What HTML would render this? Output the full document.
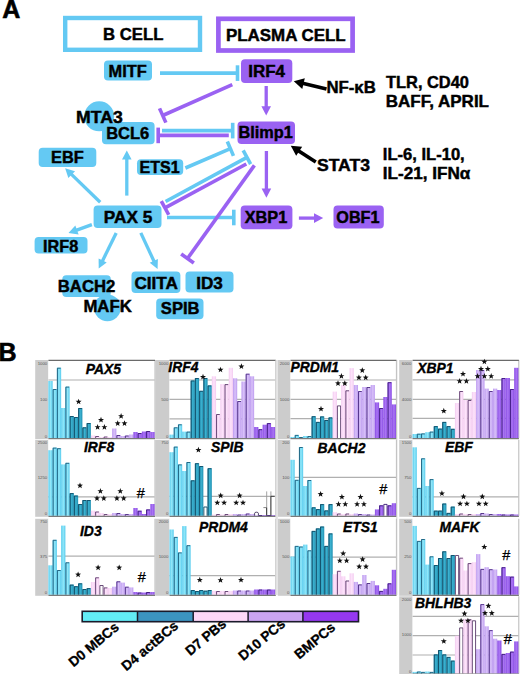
<!DOCTYPE html>
<html><head><meta charset="utf-8"><style>
html,body{margin:0;padding:0;background:#fff;}
body{width:520px;height:674px;overflow:hidden;}
svg{display:block;font-family:"Liberation Sans", sans-serif;}
</style></head><body>
<svg width="520" height="674" viewBox="0 0 520 674">
<defs><linearGradient id="g0" x1="0" x2="1" y1="0" y2="0"><stop offset="0" stop-color="#56CBEE"/><stop offset="0.5" stop-color="#93E7F8"/><stop offset="1" stop-color="#56CBEE"/></linearGradient><linearGradient id="g1" x1="0" x2="1" y1="0" y2="0"><stop offset="0" stop-color="#1F90B2"/><stop offset="0.5" stop-color="#3DB2D0"/><stop offset="1" stop-color="#1F90B2"/></linearGradient><linearGradient id="g2" x1="0" x2="1" y1="0" y2="0"><stop offset="0" stop-color="#F3CBF0"/><stop offset="0.5" stop-color="#FDE4FB"/><stop offset="1" stop-color="#F3CBF0"/></linearGradient><linearGradient id="g3" x1="0" x2="1" y1="0" y2="0"><stop offset="0" stop-color="#BD9BF0"/><stop offset="0.5" stop-color="#D8C1F8"/><stop offset="1" stop-color="#BD9BF0"/></linearGradient><linearGradient id="g4" x1="0" x2="1" y1="0" y2="0"><stop offset="0" stop-color="#8A4CE5"/><stop offset="0.5" stop-color="#AA76F3"/><stop offset="1" stop-color="#8A4CE5"/></linearGradient></defs>
<rect width="520" height="674" fill="#fff"/>
<text x="2.3" y="17.6" font-size="25" text-anchor="start" font-weight="bold" font-style="normal" fill="#000" stroke="#000" stroke-width="0.6" >A</text>
<rect x="65.2" y="18" width="134.8" height="31.8" fill="none" stroke="#64C9F3" stroke-width="4.4"/>
<text transform="translate(133.2 39.7) scale(1.025 1)" font-size="16.3" text-anchor="middle" font-weight="bold" font-style="normal" fill="#000" stroke="#000" stroke-width="0.45" >B CELL</text>
<rect x="218.4" y="18.8" width="134.2" height="31.7" fill="none" stroke="#9A62F2" stroke-width="4.7"/>
<text transform="translate(285.8 40.7) scale(1.04 1)" font-size="16.3" text-anchor="middle" font-weight="bold" font-style="normal" fill="#000" stroke="#000" stroke-width="0.45" >PLASMA CELL</text>
<line x1="160" y1="73.1" x2="237.5" y2="73.1" stroke="#64C9F3" stroke-width="3.6"/>
<line x1="237.5" y1="80.89999999999999" x2="237.5" y2="65.3" stroke="#64C9F3" stroke-width="3.6"/>
<line x1="185.4" y1="168" x2="230.4" y2="148.7" stroke="#64C9F3" stroke-width="3.6"/>
<line x1="233.47449300652363" y1="155.86850701002916" x2="227.32550699347638" y2="141.53149298997081" stroke="#64C9F3" stroke-width="3.6"/>
<line x1="165.6" y1="201.5" x2="246.9" y2="157.3" stroke="#64C9F3" stroke-width="3.6"/>
<line x1="250.6255940539604" y1="164.15273295445658" x2="243.1744059460396" y2="150.44726704554344" stroke="#64C9F3" stroke-width="3.6"/>
<line x1="162" y1="130.6" x2="232.7" y2="130.6" stroke="#64C9F3" stroke-width="3.6"/>
<line x1="232.7" y1="138.4" x2="232.7" y2="122.8" stroke="#64C9F3" stroke-width="3.6"/>
<line x1="167" y1="217.5" x2="233.8" y2="217.5" stroke="#64C9F3" stroke-width="3.6"/>
<line x1="233.8" y1="225.3" x2="233.8" y2="209.7" stroke="#64C9F3" stroke-width="3.6"/>
<line x1="100.2" y1="202.3" x2="70.98145164310252" y2="173.9138889182278" stroke="#64C9F3" stroke-width="3.3"/>
<polygon points="65.10,168.20 75.04,171.17 68.35,178.05" fill="#64C9F3"/>
<line x1="126.8" y1="195.6" x2="126.8" y2="158.6" stroke="#64C9F3" stroke-width="3.3"/>
<polygon points="126.80,150.40 131.60,159.60 122.00,159.60" fill="#64C9F3"/>
<line x1="91.9" y1="224.6" x2="76.01928515534223" y2="230.36863573417054" stroke="#64C9F3" stroke-width="3.3"/>
<polygon points="68.50,233.10 75.32,225.52 78.60,234.54" fill="#64C9F3"/>
<line x1="116.2" y1="232.9" x2="102.22125773618424" y2="261.4166342181842" stroke="#64C9F3" stroke-width="3.3"/>
<polygon points="98.70,268.60 98.62,258.54 106.70,262.50" fill="#64C9F3"/>
<line x1="140.8" y1="232.9" x2="154.22461750672053" y2="261.7469459519412" stroke="#64C9F3" stroke-width="3.3"/>
<polygon points="157.60,269.00 149.72,262.74 157.88,258.94" fill="#64C9F3"/>
<line x1="232.3" y1="84.6" x2="162.7" y2="115.5" stroke="#9A62F2" stroke-width="3.6"/>
<line x1="159.53497131001708" y1="108.37100333906761" x2="165.8650286899829" y2="122.62899666093239" stroke="#9A62F2" stroke-width="3.6"/>
<line x1="266.2" y1="86" x2="266.2" y2="107.2" stroke="#9A62F2" stroke-width="3.3"/>
<polygon points="266.20,115.40 261.40,106.20 271.00,106.20" fill="#9A62F2"/>
<line x1="228.8" y1="135.4" x2="158.2" y2="135.4" stroke="#9A62F2" stroke-width="3.6"/>
<line x1="158.2" y1="127.60000000000001" x2="158.2" y2="143.20000000000002" stroke="#9A62F2" stroke-width="3.6"/>
<line x1="266.4" y1="151" x2="266.4" y2="189.5" stroke="#9A62F2" stroke-width="3.3"/>
<polygon points="266.40,197.70 261.60,188.50 271.20,188.50" fill="#9A62F2"/>
<line x1="246.3" y1="164.0" x2="165.0" y2="207.9" stroke="#9A62F2" stroke-width="3.6"/>
<line x1="161.29396918707226" y1="201.03666730999944" x2="168.70603081292774" y2="214.76333269000057" stroke="#9A62F2" stroke-width="3.6"/>
<line x1="254.4" y1="165.4" x2="187.5" y2="258.5" stroke="#9A62F2" stroke-width="3.6"/>
<line x1="181.1657763284689" y1="253.9483398106828" x2="193.8342236715311" y2="263.0516601893172" stroke="#9A62F2" stroke-width="3.6"/>
<line x1="298.9" y1="218.1" x2="315.0" y2="218.1" stroke="#9A62F2" stroke-width="3.3"/>
<polygon points="323.20,218.10 314.00,222.90 314.00,213.30" fill="#9A62F2"/>
<line x1="326.5" y1="89" x2="302.5604030405542" y2="83.3628471991519" stroke="#000" stroke-width="3.6"/>
<polygon points="293.80,81.30 304.79,78.24 302.27,88.95" fill="#000"/>
<line x1="315.8" y1="162.1" x2="298.3390952434259" y2="150.71549009871373" stroke="#000" stroke-width="3.6"/>
<polygon points="290.80,145.80 302.18,146.65 296.17,155.87" fill="#000"/>
<circle cx="99.2" cy="116.3" r="15" fill="#64C9F3"/>
<circle cx="107.4" cy="307.8" r="13.4" fill="#64C9F3"/>
<rect x="104" y="60.5" width="48.00" height="20.00" rx="4" fill="#64C9F3"/>
<rect x="241" y="59.2" width="51.30" height="23.80" rx="4" fill="#9A62F2"/>
<rect x="102" y="122" width="52.60" height="22.20" rx="4" fill="#64C9F3"/>
<rect x="237.5" y="121.5" width="57.50" height="22.50" rx="4" fill="#9A62F2"/>
<rect x="38.7" y="147.7" width="57.60" height="19.30" rx="4" fill="#64C9F3"/>
<rect x="137" y="159.2" width="46.20" height="15.70" rx="4" fill="#64C9F3"/>
<rect x="93.6" y="205.6" width="67.90" height="22.30" rx="4" fill="#64C9F3"/>
<rect x="240.7" y="205.4" width="51.70" height="23.80" rx="4" fill="#9A62F2"/>
<rect x="333.5" y="205.5" width="50.30" height="23.00" rx="4" fill="#9A62F2"/>
<rect x="34.6" y="237.1" width="52.90" height="16.40" rx="4" fill="#64C9F3"/>
<rect x="62.3" y="275.2" width="48.50" height="21.70" rx="4" fill="#64C9F3"/>
<rect x="131.5" y="271.6" width="48.90" height="21.50" rx="4" fill="#64C9F3"/>
<rect x="185.5" y="271.6" width="48.00" height="20.80" rx="4" fill="#64C9F3"/>
<rect x="156.2" y="298.4" width="47.30" height="20.80" rx="4" fill="#64C9F3"/>
<text transform="translate(127.6 76.6) scale(1.005 1)" font-size="16.3" text-anchor="middle" font-weight="bold" font-style="normal" fill="#000" stroke="#000" stroke-width="0.45" >MITF</text>
<text transform="translate(266.6 76.6) scale(1.038 1)" font-size="16.3" text-anchor="middle" font-weight="bold" font-style="normal" fill="#000" stroke="#000" stroke-width="0.45" >IRF4</text>
<text transform="translate(127.7 138.8) scale(1.012 1)" font-size="16.3" text-anchor="middle" font-weight="bold" font-style="normal" fill="#000" stroke="#000" stroke-width="0.45" >BCL6</text>
<text x="265.7" y="138.4" font-size="16.3" text-anchor="middle" font-weight="bold" font-style="normal" fill="#000" stroke="#000" stroke-width="0.45" >Blimp1</text>
<text transform="translate(67.5 162.7) scale(1.006 1)" font-size="16.3" text-anchor="middle" font-weight="bold" font-style="normal" fill="#000" stroke="#000" stroke-width="0.45" >EBF</text>
<text transform="translate(159.6 172.9) scale(0.985 1)" font-size="16.3" text-anchor="middle" font-weight="bold" font-style="normal" fill="#000" stroke="#000" stroke-width="0.45" >ETS1</text>
<text transform="translate(128 222.7) scale(1.055 1)" font-size="16.3" text-anchor="middle" font-weight="bold" font-style="normal" fill="#000" stroke="#000" stroke-width="0.45" >PAX 5</text>
<text x="266" y="223" font-size="16.3" text-anchor="middle" font-weight="bold" font-style="normal" fill="#000" stroke="#000" stroke-width="0.45" >XBP1</text>
<text transform="translate(357.9 223.2) scale(0.995 1)" font-size="16.3" text-anchor="middle" font-weight="bold" font-style="normal" fill="#000" stroke="#000" stroke-width="0.45" >OBF1</text>
<text transform="translate(60.6 251.5) scale(0.995 1)" font-size="16.3" text-anchor="middle" font-weight="bold" font-style="normal" fill="#000" stroke="#000" stroke-width="0.45" >IRF8</text>
<text transform="translate(156.2 288.5) scale(1.055 1)" font-size="16.3" text-anchor="middle" font-weight="bold" font-style="normal" fill="#000" stroke="#000" stroke-width="0.45" >CIITA</text>
<text transform="translate(209.5 288.5) scale(1.05 1)" font-size="16.3" text-anchor="middle" font-weight="bold" font-style="normal" fill="#000" stroke="#000" stroke-width="0.45" >ID3</text>
<text transform="translate(180.2 313.9) scale(1.017 1)" font-size="16.3" text-anchor="middle" font-weight="bold" font-style="normal" fill="#000" stroke="#000" stroke-width="0.45" >SPIB</text>
<text transform="translate(99.4 123) scale(1.08 1)" font-size="16.3" text-anchor="middle" font-weight="bold" font-style="normal" fill="#000" stroke="#000" stroke-width="0.45" >MTA3</text>
<text transform="translate(86.6 291.9) scale(1.028 1)" font-size="16.3" text-anchor="middle" font-weight="bold" font-style="normal" fill="#000" stroke="#000" stroke-width="0.45" >BACH2</text>
<text transform="translate(107.6 312.3) scale(1.029 1)" font-size="16.3" text-anchor="middle" font-weight="bold" font-style="normal" fill="#000" stroke="#000" stroke-width="0.45" >MAFK</text>
<text transform="translate(326.4 92.9) scale(1.029 1)" font-size="16.3" text-anchor="start" font-weight="bold" font-style="normal" fill="#000" stroke="#000" stroke-width="0.45" >NF-&#954;B</text>
<text transform="translate(386 87.7) scale(1.007 1)" font-size="16.3" text-anchor="start" font-weight="bold" font-style="normal" fill="#000" stroke="#000" stroke-width="0.45" >TLR, CD40</text>
<text transform="translate(385.8 107.3) scale(1.043 1)" font-size="16.3" text-anchor="start" font-weight="bold" font-style="normal" fill="#000" stroke="#000" stroke-width="0.45" >BAFF, APRIL</text>
<text transform="translate(316.9 171.4) scale(1.08 1)" font-size="16.3" text-anchor="start" font-weight="bold" font-style="normal" fill="#000" stroke="#000" stroke-width="0.45" >STAT3</text>
<text transform="translate(382.8 159.6) scale(1.017 1)" font-size="16.3" text-anchor="start" font-weight="bold" font-style="normal" fill="#000" stroke="#000" stroke-width="0.45" >IL-6, IL-10,</text>
<text transform="translate(382.8 179.3) scale(1.05 1)" font-size="16.3" text-anchor="start" font-weight="bold" font-style="normal" fill="#000" stroke="#000" stroke-width="0.45" >IL-21, IFN&#945;</text>
<text x="-1.6" y="360.6" font-size="25" text-anchor="start" font-weight="bold" font-style="normal" fill="#000" stroke="#000" stroke-width="0.6" >B</text>
<rect x="35.2" y="360.0" width="13.20" height="79.00" fill="#CCCCCC"/>
<rect x="48.4" y="360.0" width="106.20" height="78.00" fill="#fff"/>
<line x1="155.00" y1="360.0" x2="155.00" y2="438.0" stroke="#b8b8b8" stroke-width="1"/>
<line x1="48.4" y1="380" x2="154.6" y2="380" stroke="#b0b0b0" stroke-width="1.2"/>
<rect x="48.40" y="381.00" width="4.25" height="57.00" fill="url(#g0)"/>
<rect x="52.65" y="389.00" width="4.25" height="49.00" fill="url(#g0)"/>
<path d="M53.15,438.0 V389.50 H56.40" fill="none" stroke="#1b5a78" stroke-width="0.9"/>
<rect x="56.90" y="367.70" width="4.25" height="70.30" fill="url(#g0)"/>
<path d="M57.40,438.0 V368.20 H60.64" fill="none" stroke="#1b5a78" stroke-width="0.9"/>
<rect x="61.14" y="408.00" width="4.25" height="30.00" fill="url(#g0)"/>
<rect x="65.39" y="386.60" width="4.25" height="51.40" fill="url(#g0)"/>
<path d="M65.89,438.0 V387.10 H69.14" fill="none" stroke="#1b5a78" stroke-width="0.9"/>
<rect x="69.64" y="416.00" width="4.25" height="22.00" fill="url(#g1)"/>
<path d="M70.14,438.0 V416.50 H73.39" fill="none" stroke="#114a63" stroke-width="0.9"/>
<rect x="73.89" y="417.00" width="4.25" height="21.00" fill="url(#g1)"/>
<path d="M74.39,438.0 V417.50 H77.64" fill="none" stroke="#114a63" stroke-width="0.9"/>
<rect x="78.14" y="408.00" width="4.25" height="30.00" fill="url(#g1)"/>
<path d="M78.64,438.0 V408.50 H81.88" fill="none" stroke="#114a63" stroke-width="0.9"/>
<rect x="82.38" y="427.30" width="4.25" height="10.70" fill="url(#g1)"/>
<path d="M82.88,438.0 V427.80 H86.13" fill="none" stroke="#114a63" stroke-width="0.9"/>
<rect x="86.63" y="423.00" width="4.25" height="15.00" fill="url(#g1)"/>
<path d="M87.13,438.0 V423.50 H90.38" fill="none" stroke="#114a63" stroke-width="0.9"/>
<rect x="90.88" y="435.50" width="4.25" height="2.50" fill="url(#g2)"/>
<rect x="95.13" y="436.00" width="4.25" height="2.00" fill="url(#g2)"/>
<path d="M95.63,438.0 V436.50 H98.88" fill="none" stroke="#5a3a6a" stroke-width="0.9"/>
<rect x="99.38" y="437.00" width="4.25" height="1.00" fill="url(#g2)"/>
<rect x="103.62" y="436.50" width="4.25" height="1.50" fill="url(#g2)"/>
<path d="M104.12,438.0 V437.00 H107.37" fill="none" stroke="#5a3a6a" stroke-width="0.9"/>
<rect x="107.87" y="437.00" width="4.25" height="1.00" fill="url(#g2)"/>
<rect x="112.12" y="428.50" width="4.25" height="9.50" fill="url(#g3)"/>
<rect x="116.37" y="435.00" width="4.25" height="3.00" fill="url(#g3)"/>
<path d="M116.87,438.0 V435.50 H120.12" fill="none" stroke="#4a2a80" stroke-width="0.9"/>
<rect x="120.62" y="436.00" width="4.25" height="2.00" fill="url(#g3)"/>
<rect x="124.86" y="435.50" width="4.25" height="2.50" fill="url(#g3)"/>
<path d="M125.36,438.0 V436.00 H128.61" fill="none" stroke="#4a2a80" stroke-width="0.9"/>
<rect x="129.11" y="434.50" width="4.25" height="3.50" fill="url(#g3)"/>
<rect x="133.36" y="432.00" width="4.25" height="6.00" fill="url(#g4)"/>
<rect x="137.61" y="433.00" width="4.25" height="5.00" fill="url(#g4)"/>
<path d="M138.11,438.0 V433.50 H141.36" fill="none" stroke="#3b1a78" stroke-width="0.9"/>
<rect x="141.86" y="431.50" width="4.25" height="6.50" fill="url(#g4)"/>
<rect x="146.10" y="431.00" width="4.25" height="7.00" fill="url(#g4)"/>
<path d="M146.60,438.0 V431.50 H149.85" fill="none" stroke="#3b1a78" stroke-width="0.9"/>
<rect x="150.35" y="432.00" width="4.25" height="6.00" fill="url(#g4)"/>
<line x1="48.4" y1="438.60" x2="155.10" y2="438.60" stroke="#7a7a7a" stroke-width="1.3"/>
<line x1="48.4" y1="360.3" x2="155.10" y2="360.3" stroke="#6a6a6a" stroke-width="1.2"/>
<text x="47.20" y="364.60" font-size="4.3" text-anchor="end" fill="#555">1000</text>
<text x="47.20" y="400.50" font-size="4.3" text-anchor="end" fill="#555">100</text>
<text x="47.20" y="437.50" font-size="4.3" text-anchor="end" fill="#555">0</text>
<text x="85.8" y="373.6" font-size="13.9" text-anchor="start" font-weight="bold" font-style="italic" fill="#000" stroke="#000" stroke-width="0.35" >PAX5</text>
<polygon points="78.60,398.65 79.38,400.73 81.60,400.83 79.86,402.21 80.45,404.35 78.60,403.12 76.75,404.35 77.34,402.21 75.60,400.83 77.82,400.73" fill="#111"/>
<polygon points="101.00,416.85 101.78,418.93 104.00,419.03 102.26,420.41 102.85,422.55 101.00,421.32 99.15,422.55 99.74,420.41 98.00,419.03 100.22,418.93" fill="#111"/>
<polygon points="97.60,424.05 98.38,426.13 100.60,426.23 98.86,427.61 99.45,429.75 97.60,428.52 95.75,429.75 96.34,427.61 94.60,426.23 96.82,426.13" fill="#111"/>
<polygon points="104.40,424.05 105.18,426.13 107.40,426.23 105.66,427.61 106.25,429.75 104.40,428.52 102.55,429.75 103.14,427.61 101.40,426.23 103.62,426.13" fill="#111"/>
<polygon points="121.10,413.05 121.88,415.13 124.10,415.23 122.36,416.61 122.95,418.75 121.10,417.52 119.25,418.75 119.84,416.61 118.10,415.23 120.32,415.13" fill="#111"/>
<polygon points="117.70,420.25 118.48,422.33 120.70,422.43 118.96,423.81 119.55,425.95 117.70,424.72 115.85,425.95 116.44,423.81 114.70,422.43 116.92,422.33" fill="#111"/>
<polygon points="124.50,420.25 125.28,422.33 127.50,422.43 125.76,423.81 126.35,425.95 124.50,424.72 122.65,425.95 123.24,423.81 121.50,422.43 123.72,422.33" fill="#111"/>
<rect x="155.3" y="360.0" width="14.20" height="79.00" fill="#CCCCCC"/>
<rect x="169.5" y="360.0" width="105.80" height="78.00" fill="#fff"/>
<line x1="275.70" y1="360.0" x2="275.70" y2="438.0" stroke="#b8b8b8" stroke-width="1"/>
<line x1="169.5" y1="380" x2="275.3" y2="380" stroke="#b0b0b0" stroke-width="1.2"/>
<line x1="169.5" y1="399.4" x2="275.3" y2="399.4" stroke="#b0b0b0" stroke-width="1.2"/>
<line x1="169.5" y1="418.8" x2="275.3" y2="418.8" stroke="#b0b0b0" stroke-width="1.2"/>
<rect x="169.50" y="434.60" width="4.23" height="3.40" fill="url(#g0)"/>
<rect x="173.73" y="427.30" width="4.23" height="10.70" fill="url(#g0)"/>
<path d="M174.23,438.0 V427.80 H177.46" fill="none" stroke="#1b5a78" stroke-width="0.9"/>
<rect x="177.96" y="424.30" width="4.23" height="13.70" fill="url(#g0)"/>
<path d="M178.46,438.0 V424.80 H181.70" fill="none" stroke="#1b5a78" stroke-width="0.9"/>
<rect x="182.20" y="431.60" width="4.23" height="6.40" fill="url(#g0)"/>
<rect x="186.43" y="431.60" width="4.23" height="6.40" fill="url(#g0)"/>
<path d="M186.93,438.0 V432.10 H190.16" fill="none" stroke="#1b5a78" stroke-width="0.9"/>
<rect x="190.66" y="380.50" width="4.23" height="57.50" fill="url(#g1)"/>
<path d="M191.16,438.0 V381.00 H194.39" fill="none" stroke="#114a63" stroke-width="0.9"/>
<rect x="194.89" y="378.00" width="4.23" height="60.00" fill="url(#g1)"/>
<path d="M195.39,438.0 V378.50 H198.62" fill="none" stroke="#114a63" stroke-width="0.9"/>
<rect x="199.12" y="390.80" width="4.23" height="47.20" fill="url(#g1)"/>
<path d="M199.62,438.0 V391.30 H202.86" fill="none" stroke="#114a63" stroke-width="0.9"/>
<rect x="203.36" y="378.00" width="4.23" height="60.00" fill="url(#g1)"/>
<path d="M203.86,438.0 V378.50 H207.09" fill="none" stroke="#114a63" stroke-width="0.9"/>
<rect x="207.59" y="385.40" width="4.23" height="52.60" fill="url(#g1)"/>
<path d="M208.09,438.0 V385.90 H211.32" fill="none" stroke="#114a63" stroke-width="0.9"/>
<rect x="211.82" y="376.30" width="4.23" height="61.70" fill="url(#g2)"/>
<rect x="216.05" y="414.00" width="4.23" height="24.00" fill="url(#g2)"/>
<path d="M216.55,438.0 V414.50 H219.78" fill="none" stroke="#5a3a6a" stroke-width="0.9"/>
<rect x="220.28" y="384.10" width="4.23" height="53.90" fill="url(#g2)"/>
<rect x="224.52" y="384.10" width="4.23" height="53.90" fill="url(#g2)"/>
<path d="M225.02,438.0 V384.60 H228.25" fill="none" stroke="#5a3a6a" stroke-width="0.9"/>
<rect x="228.75" y="367.80" width="4.23" height="70.20" fill="url(#g2)"/>
<rect x="232.98" y="378.30" width="4.23" height="59.70" fill="url(#g3)"/>
<rect x="237.21" y="401.00" width="4.23" height="37.00" fill="url(#g3)"/>
<path d="M237.71,438.0 V401.50 H240.94" fill="none" stroke="#4a2a80" stroke-width="0.9"/>
<rect x="241.44" y="381.50" width="4.23" height="56.50" fill="url(#g3)"/>
<rect x="245.68" y="373.70" width="4.23" height="64.30" fill="url(#g3)"/>
<path d="M246.18,438.0 V374.20 H249.41" fill="none" stroke="#4a2a80" stroke-width="0.9"/>
<rect x="249.91" y="376.30" width="4.23" height="61.70" fill="url(#g3)"/>
<rect x="254.14" y="427.00" width="4.23" height="11.00" fill="url(#g4)"/>
<rect x="258.37" y="429.20" width="4.23" height="8.80" fill="url(#g4)"/>
<path d="M258.87,438.0 V429.70 H262.10" fill="none" stroke="#3b1a78" stroke-width="0.9"/>
<rect x="262.60" y="424.70" width="4.23" height="13.30" fill="url(#g4)"/>
<rect x="266.84" y="423.10" width="4.23" height="14.90" fill="url(#g4)"/>
<path d="M267.34,438.0 V423.60 H270.57" fill="none" stroke="#3b1a78" stroke-width="0.9"/>
<rect x="271.07" y="427.00" width="4.23" height="11.00" fill="url(#g4)"/>
<line x1="169.5" y1="438.60" x2="275.80" y2="438.60" stroke="#7a7a7a" stroke-width="1.3"/>
<line x1="169.5" y1="360.3" x2="275.80" y2="360.3" stroke="#6a6a6a" stroke-width="1.2"/>
<text x="168.30" y="364.60" font-size="4.3" text-anchor="end" fill="#555">1000</text>
<text x="168.30" y="400.50" font-size="4.3" text-anchor="end" fill="#555">500</text>
<text x="168.30" y="437.50" font-size="4.3" text-anchor="end" fill="#555">0</text>
<text x="168.3" y="371.7" font-size="13.9" text-anchor="start" font-weight="bold" font-style="italic" fill="#000" stroke="#000" stroke-width="0.35" >IRF4</text>
<polygon points="203.00,373.85 203.78,375.93 206.00,376.03 204.26,377.41 204.85,379.55 203.00,378.32 201.15,379.55 201.74,377.41 200.00,376.03 202.22,375.93" fill="#111"/>
<polygon points="220.50,366.65 221.28,368.73 223.50,368.83 221.76,370.21 222.35,372.35 220.50,371.12 218.65,372.35 219.24,370.21 217.50,368.83 219.72,368.73" fill="#111"/>
<polygon points="241.40,363.35 242.18,365.43 244.40,365.53 242.66,366.91 243.25,369.05 241.40,367.82 239.55,369.05 240.14,366.91 238.40,365.53 240.62,365.43" fill="#111"/>
<rect x="277.8" y="360.0" width="12.70" height="79.00" fill="#CCCCCC"/>
<rect x="290.5" y="360.0" width="105.50" height="78.00" fill="#fff"/>
<line x1="396.40" y1="360.0" x2="396.40" y2="438.0" stroke="#b8b8b8" stroke-width="1"/>
<line x1="290.5" y1="380" x2="396.0" y2="380" stroke="#b0b0b0" stroke-width="1.2"/>
<line x1="290.5" y1="399.4" x2="396.0" y2="399.4" stroke="#b0b0b0" stroke-width="1.2"/>
<line x1="290.5" y1="418.6" x2="396.0" y2="418.6" stroke="#b0b0b0" stroke-width="1.2"/>
<rect x="290.50" y="437.00" width="4.22" height="1.00" fill="url(#g0)"/>
<rect x="294.72" y="434.90" width="4.22" height="3.10" fill="url(#g0)"/>
<path d="M295.22,438.0 V435.40 H298.44" fill="none" stroke="#1b5a78" stroke-width="0.9"/>
<rect x="298.94" y="437.00" width="4.22" height="1.00" fill="url(#g0)"/>
<path d="M299.44,438.0 V437.50 H302.66" fill="none" stroke="#1b5a78" stroke-width="0.9"/>
<rect x="303.16" y="436.00" width="4.22" height="2.00" fill="url(#g0)"/>
<rect x="307.38" y="436.00" width="4.22" height="2.00" fill="url(#g0)"/>
<path d="M307.88,438.0 V436.50 H311.10" fill="none" stroke="#1b5a78" stroke-width="0.9"/>
<rect x="311.60" y="416.20" width="4.22" height="21.80" fill="url(#g1)"/>
<path d="M312.10,438.0 V416.70 H315.32" fill="none" stroke="#114a63" stroke-width="0.9"/>
<rect x="315.82" y="421.90" width="4.22" height="16.10" fill="url(#g1)"/>
<path d="M316.32,438.0 V422.40 H319.54" fill="none" stroke="#114a63" stroke-width="0.9"/>
<rect x="320.04" y="416.40" width="4.22" height="21.60" fill="url(#g1)"/>
<path d="M320.54,438.0 V416.90 H323.76" fill="none" stroke="#114a63" stroke-width="0.9"/>
<rect x="324.26" y="420.00" width="4.22" height="18.00" fill="url(#g1)"/>
<path d="M324.76,438.0 V420.50 H327.98" fill="none" stroke="#114a63" stroke-width="0.9"/>
<rect x="328.48" y="417.40" width="4.22" height="20.60" fill="url(#g1)"/>
<path d="M328.98,438.0 V417.90 H332.20" fill="none" stroke="#114a63" stroke-width="0.9"/>
<rect x="332.70" y="391.60" width="4.22" height="46.40" fill="url(#g2)"/>
<path d="M337.42,438.0 V405.90 H340.64 V438.0" fill="#fff" stroke="#5a3a6a" stroke-width="0.9"/>
<rect x="341.14" y="385.00" width="4.22" height="53.00" fill="url(#g2)"/>
<rect x="345.36" y="390.30" width="4.22" height="47.70" fill="url(#g2)"/>
<path d="M345.86,438.0 V390.80 H349.08" fill="none" stroke="#5a3a6a" stroke-width="0.9"/>
<rect x="349.58" y="368.10" width="4.22" height="69.90" fill="url(#g2)"/>
<rect x="353.80" y="385.00" width="4.22" height="53.00" fill="url(#g3)"/>
<rect x="358.02" y="391.00" width="4.22" height="47.00" fill="url(#g3)"/>
<path d="M358.52,438.0 V391.50 H361.74" fill="none" stroke="#4a2a80" stroke-width="0.9"/>
<rect x="362.24" y="387.00" width="4.22" height="51.00" fill="url(#g3)"/>
<rect x="366.46" y="387.00" width="4.22" height="51.00" fill="url(#g3)"/>
<path d="M366.96,438.0 V387.50 H370.18" fill="none" stroke="#4a2a80" stroke-width="0.9"/>
<rect x="370.68" y="385.00" width="4.22" height="53.00" fill="url(#g3)"/>
<rect x="374.90" y="402.40" width="4.22" height="35.60" fill="url(#g4)"/>
<rect x="379.12" y="408.00" width="4.22" height="30.00" fill="url(#g4)"/>
<path d="M379.62,438.0 V408.50 H382.84" fill="none" stroke="#3b1a78" stroke-width="0.9"/>
<rect x="383.34" y="397.00" width="4.22" height="41.00" fill="url(#g4)"/>
<rect x="387.56" y="382.20" width="4.22" height="55.80" fill="url(#g4)"/>
<path d="M388.06,438.0 V382.70 H391.28" fill="none" stroke="#3b1a78" stroke-width="0.9"/>
<rect x="391.78" y="404.40" width="4.22" height="33.60" fill="url(#g4)"/>
<line x1="290.5" y1="438.60" x2="396.50" y2="438.60" stroke="#7a7a7a" stroke-width="1.3"/>
<line x1="290.5" y1="360.3" x2="396.50" y2="360.3" stroke="#6a6a6a" stroke-width="1.2"/>
<text x="289.30" y="364.60" font-size="4.3" text-anchor="end" fill="#555">2000</text>
<text x="289.30" y="400.50" font-size="4.3" text-anchor="end" fill="#555">1000</text>
<text x="289.30" y="437.50" font-size="4.3" text-anchor="end" fill="#555">0</text>
<text x="290.4" y="372.4" font-size="13.9" text-anchor="start" font-weight="bold" font-style="italic" fill="#000" stroke="#000" stroke-width="0.35" >PRDM1</text>
<polygon points="321.00,405.85 321.78,407.93 324.00,408.03 322.26,409.41 322.85,411.55 321.00,410.32 319.15,411.55 319.74,409.41 318.00,408.03 320.22,407.93" fill="#111"/>
<polygon points="341.40,373.05 342.18,375.13 344.40,375.23 342.66,376.61 343.25,378.75 341.40,377.52 339.55,378.75 340.14,376.61 338.40,375.23 340.62,375.13" fill="#111"/>
<polygon points="338.00,380.25 338.78,382.33 341.00,382.43 339.26,383.81 339.85,385.95 338.00,384.72 336.15,385.95 336.74,383.81 335.00,382.43 337.22,382.33" fill="#111"/>
<polygon points="344.80,380.25 345.58,382.33 347.80,382.43 346.06,383.81 346.65,385.95 344.80,384.72 342.95,385.95 343.54,383.81 341.80,382.43 344.02,382.33" fill="#111"/>
<polygon points="362.30,367.25 363.08,369.33 365.30,369.43 363.56,370.81 364.15,372.95 362.30,371.72 360.45,372.95 361.04,370.81 359.30,369.43 361.52,369.33" fill="#111"/>
<polygon points="358.90,374.45 359.68,376.53 361.90,376.63 360.16,378.01 360.75,380.15 358.90,378.92 357.05,380.15 357.64,378.01 355.90,376.63 358.12,376.53" fill="#111"/>
<polygon points="365.70,374.45 366.48,376.53 368.70,376.63 366.96,378.01 367.55,380.15 365.70,378.92 363.85,380.15 364.44,378.01 362.70,376.63 364.92,376.53" fill="#111"/>
<rect x="399.2" y="360.0" width="13.40" height="79.00" fill="#CCCCCC"/>
<rect x="412.6" y="360.0" width="105.80" height="78.00" fill="#fff"/>
<line x1="518.80" y1="360.0" x2="518.80" y2="438.0" stroke="#b8b8b8" stroke-width="1"/>
<line x1="412.6" y1="379.9" x2="518.4" y2="379.9" stroke="#b0b0b0" stroke-width="1.2"/>
<line x1="412.6" y1="399.4" x2="518.4" y2="399.4" stroke="#b0b0b0" stroke-width="1.2"/>
<line x1="412.6" y1="418.4" x2="518.4" y2="418.4" stroke="#b0b0b0" stroke-width="1.2"/>
<rect x="412.60" y="434.00" width="4.23" height="4.00" fill="url(#g0)"/>
<rect x="416.83" y="433.70" width="4.23" height="4.30" fill="url(#g0)"/>
<path d="M417.33,438.0 V434.20 H420.56" fill="none" stroke="#1b5a78" stroke-width="0.9"/>
<rect x="421.06" y="433.40" width="4.23" height="4.60" fill="url(#g0)"/>
<path d="M421.56,438.0 V433.90 H424.80" fill="none" stroke="#1b5a78" stroke-width="0.9"/>
<rect x="425.30" y="432.20" width="4.23" height="5.80" fill="url(#g0)"/>
<rect x="429.53" y="431.60" width="4.23" height="6.40" fill="url(#g0)"/>
<path d="M430.03,438.0 V432.10 H433.26" fill="none" stroke="#1b5a78" stroke-width="0.9"/>
<rect x="433.76" y="426.10" width="4.23" height="11.90" fill="url(#g1)"/>
<path d="M434.26,438.0 V426.60 H437.49" fill="none" stroke="#114a63" stroke-width="0.9"/>
<rect x="437.99" y="428.60" width="4.23" height="9.40" fill="url(#g1)"/>
<path d="M438.49,438.0 V429.10 H441.72" fill="none" stroke="#114a63" stroke-width="0.9"/>
<rect x="442.22" y="421.90" width="4.23" height="16.10" fill="url(#g1)"/>
<path d="M442.72,438.0 V422.40 H445.96" fill="none" stroke="#114a63" stroke-width="0.9"/>
<rect x="446.46" y="426.10" width="4.23" height="11.90" fill="url(#g1)"/>
<path d="M446.96,438.0 V426.60 H450.19" fill="none" stroke="#114a63" stroke-width="0.9"/>
<rect x="450.69" y="428.80" width="4.23" height="9.20" fill="url(#g1)"/>
<path d="M451.19,438.0 V429.30 H454.42" fill="none" stroke="#114a63" stroke-width="0.9"/>
<rect x="454.92" y="403.00" width="4.23" height="35.00" fill="url(#g2)"/>
<rect x="459.15" y="391.00" width="4.23" height="47.00" fill="url(#g2)"/>
<path d="M459.65,438.0 V391.50 H462.88" fill="none" stroke="#5a3a6a" stroke-width="0.9"/>
<rect x="463.38" y="400.00" width="4.23" height="38.00" fill="url(#g2)"/>
<rect x="467.62" y="400.00" width="4.23" height="38.00" fill="url(#g2)"/>
<path d="M468.12,438.0 V400.50 H471.35" fill="none" stroke="#5a3a6a" stroke-width="0.9"/>
<rect x="471.85" y="392.00" width="4.23" height="46.00" fill="url(#g2)"/>
<rect x="476.08" y="370.00" width="4.23" height="68.00" fill="url(#g3)"/>
<rect x="480.31" y="370.00" width="4.23" height="68.00" fill="url(#g3)"/>
<path d="M480.81,438.0 V370.50 H484.04" fill="none" stroke="#4a2a80" stroke-width="0.9"/>
<rect x="484.54" y="388.60" width="4.23" height="49.40" fill="url(#g3)"/>
<rect x="488.78" y="391.00" width="4.23" height="47.00" fill="url(#g3)"/>
<path d="M489.28,438.0 V391.50 H492.51" fill="none" stroke="#4a2a80" stroke-width="0.9"/>
<rect x="493.01" y="388.60" width="4.23" height="49.40" fill="url(#g3)"/>
<rect x="497.24" y="390.00" width="4.23" height="48.00" fill="url(#g4)"/>
<rect x="501.47" y="378.00" width="4.23" height="60.00" fill="url(#g4)"/>
<path d="M501.97,438.0 V378.50 H505.20" fill="none" stroke="#3b1a78" stroke-width="0.9"/>
<rect x="505.70" y="378.00" width="4.23" height="60.00" fill="url(#g4)"/>
<rect x="509.94" y="389.00" width="4.23" height="49.00" fill="url(#g4)"/>
<path d="M510.44,438.0 V389.50 H513.67" fill="none" stroke="#3b1a78" stroke-width="0.9"/>
<rect x="514.17" y="367.80" width="4.23" height="70.20" fill="url(#g4)"/>
<line x1="412.6" y1="438.60" x2="518.90" y2="438.60" stroke="#7a7a7a" stroke-width="1.3"/>
<line x1="412.6" y1="360.3" x2="518.90" y2="360.3" stroke="#6a6a6a" stroke-width="1.2"/>
<text x="411.40" y="364.60" font-size="4.3" text-anchor="end" fill="#555">6000</text>
<text x="411.40" y="400.50" font-size="4.3" text-anchor="end" fill="#555">4000</text>
<text x="411.40" y="437.50" font-size="4.3" text-anchor="end" fill="#555">0</text>
<text x="417.3" y="372.6" font-size="13.9" text-anchor="start" font-weight="bold" font-style="italic" fill="#000" stroke="#000" stroke-width="0.35" >XBP1</text>
<polygon points="443.80,407.85 444.58,409.93 446.80,410.03 445.06,411.41 445.65,413.55 443.80,412.32 441.95,413.55 442.54,411.41 440.80,410.03 443.02,409.93" fill="#111"/>
<polygon points="463.00,370.85 463.78,372.93 466.00,373.03 464.26,374.41 464.85,376.55 463.00,375.32 461.15,376.55 461.74,374.41 460.00,373.03 462.22,372.93" fill="#111"/>
<polygon points="459.60,378.05 460.38,380.13 462.60,380.23 460.86,381.61 461.45,383.75 459.60,382.52 457.75,383.75 458.34,381.61 456.60,380.23 458.82,380.13" fill="#111"/>
<polygon points="466.40,378.05 467.18,380.13 469.40,380.23 467.66,381.61 468.25,383.75 466.40,382.52 464.55,383.75 465.14,381.61 463.40,380.23 465.62,380.13" fill="#111"/>
<polygon points="484.40,358.65 485.18,360.73 487.40,360.83 485.66,362.21 486.25,364.35 484.40,363.12 482.55,364.35 483.14,362.21 481.40,360.83 483.62,360.73" fill="#111"/>
<polygon points="481.00,365.85 481.78,367.93 484.00,368.03 482.26,369.41 482.85,371.55 481.00,370.32 479.15,371.55 479.74,369.41 478.00,368.03 480.22,367.93" fill="#111"/>
<polygon points="487.80,365.85 488.58,367.93 490.80,368.03 489.06,369.41 489.65,371.55 487.80,370.32 485.95,371.55 486.54,369.41 484.80,368.03 487.02,367.93" fill="#111"/>
<polygon points="477.60,373.05 478.38,375.13 480.60,375.23 478.86,376.61 479.45,378.75 477.60,377.52 475.75,378.75 476.34,376.61 474.60,375.23 476.82,375.13" fill="#111"/>
<polygon points="484.40,373.05 485.18,375.13 487.40,375.23 485.66,376.61 486.25,378.75 484.40,377.52 482.55,378.75 483.14,376.61 481.40,375.23 483.62,375.13" fill="#111"/>
<polygon points="491.20,373.05 491.98,375.13 494.20,375.23 492.46,376.61 493.05,378.75 491.20,377.52 489.35,378.75 489.94,376.61 488.20,375.23 490.42,375.13" fill="#111"/>
<rect x="35.2" y="439.8" width="13.20" height="77.00" fill="#CCCCCC"/>
<rect x="48.4" y="439.8" width="106.20" height="76.00" fill="#fff"/>
<line x1="155.00" y1="439.8" x2="155.00" y2="515.8" stroke="#b8b8b8" stroke-width="1"/>
<line x1="48.4" y1="496.8" x2="154.6" y2="496.8" stroke="#b0b0b0" stroke-width="1.2"/>
<rect x="48.40" y="450.20" width="4.25" height="65.60" fill="url(#g0)"/>
<rect x="52.65" y="447.60" width="4.25" height="68.20" fill="url(#g0)"/>
<path d="M53.15,515.8 V448.10 H56.40" fill="none" stroke="#1b5a78" stroke-width="0.9"/>
<rect x="56.90" y="448.20" width="4.25" height="67.60" fill="url(#g0)"/>
<path d="M57.40,515.8 V448.70 H60.64" fill="none" stroke="#1b5a78" stroke-width="0.9"/>
<rect x="61.14" y="464.40" width="4.25" height="51.40" fill="url(#g0)"/>
<rect x="65.39" y="462.80" width="4.25" height="53.00" fill="url(#g0)"/>
<path d="M65.89,515.8 V463.30 H69.14" fill="none" stroke="#1b5a78" stroke-width="0.9"/>
<rect x="69.64" y="493.10" width="4.25" height="22.70" fill="url(#g1)"/>
<path d="M70.14,515.8 V493.60 H73.39" fill="none" stroke="#114a63" stroke-width="0.9"/>
<rect x="73.89" y="495.50" width="4.25" height="20.30" fill="url(#g1)"/>
<path d="M74.39,515.8 V496.00 H77.64" fill="none" stroke="#114a63" stroke-width="0.9"/>
<rect x="78.14" y="504.00" width="4.25" height="11.80" fill="url(#g1)"/>
<path d="M78.64,515.8 V504.50 H81.88" fill="none" stroke="#114a63" stroke-width="0.9"/>
<rect x="82.38" y="500.00" width="4.25" height="15.80" fill="url(#g1)"/>
<path d="M82.88,515.8 V500.50 H86.13" fill="none" stroke="#114a63" stroke-width="0.9"/>
<rect x="86.63" y="500.00" width="4.25" height="15.80" fill="url(#g1)"/>
<path d="M87.13,515.8 V500.50 H90.38" fill="none" stroke="#114a63" stroke-width="0.9"/>
<rect x="90.88" y="510.70" width="4.25" height="5.10" fill="url(#g2)"/>
<rect x="95.13" y="511.50" width="4.25" height="4.30" fill="url(#g2)"/>
<path d="M95.63,515.8 V512.00 H98.88" fill="none" stroke="#5a3a6a" stroke-width="0.9"/>
<rect x="99.38" y="513.00" width="4.25" height="2.80" fill="url(#g2)"/>
<rect x="103.62" y="514.00" width="4.25" height="1.80" fill="url(#g2)"/>
<path d="M104.12,515.8 V514.50 H107.37" fill="none" stroke="#5a3a6a" stroke-width="0.9"/>
<rect x="107.87" y="514.00" width="4.25" height="1.80" fill="url(#g2)"/>
<rect x="112.12" y="513.00" width="4.25" height="2.80" fill="url(#g3)"/>
<rect x="116.37" y="513.00" width="4.25" height="2.80" fill="url(#g3)"/>
<path d="M116.87,515.8 V513.50 H120.12" fill="none" stroke="#4a2a80" stroke-width="0.9"/>
<rect x="120.62" y="514.00" width="4.25" height="1.80" fill="url(#g3)"/>
<rect x="124.86" y="514.00" width="4.25" height="1.80" fill="url(#g3)"/>
<path d="M125.36,515.8 V514.50 H128.61" fill="none" stroke="#4a2a80" stroke-width="0.9"/>
<rect x="129.11" y="514.00" width="4.25" height="1.80" fill="url(#g3)"/>
<rect x="133.36" y="508.00" width="4.25" height="7.80" fill="url(#g4)"/>
<rect x="137.61" y="510.70" width="4.25" height="5.10" fill="url(#g4)"/>
<path d="M138.11,515.8 V511.20 H141.36" fill="none" stroke="#3b1a78" stroke-width="0.9"/>
<rect x="141.86" y="514.00" width="4.25" height="1.80" fill="url(#g4)"/>
<rect x="146.10" y="509.40" width="4.25" height="6.40" fill="url(#g4)"/>
<path d="M146.60,515.8 V509.90 H149.85" fill="none" stroke="#3b1a78" stroke-width="0.9"/>
<rect x="150.35" y="504.00" width="4.25" height="11.80" fill="url(#g4)"/>
<line x1="48.4" y1="516.40" x2="155.10" y2="516.40" stroke="#7a7a7a" stroke-width="1.3"/>
<text x="47.20" y="444.40" font-size="4.3" text-anchor="end" fill="#555">2500</text>
<text x="47.20" y="479.30" font-size="4.3" text-anchor="end" fill="#555">1250</text>
<text x="47.20" y="515.30" font-size="4.3" text-anchor="end" fill="#555">0</text>
<text x="84" y="452.4" font-size="13.9" text-anchor="start" font-weight="bold" font-style="italic" fill="#000" stroke="#000" stroke-width="0.35" >IRF8</text>
<polygon points="80.00,482.45 80.78,484.53 83.00,484.63 81.26,486.01 81.85,488.15 80.00,486.92 78.15,488.15 78.74,486.01 77.00,484.63 79.22,484.53" fill="#111"/>
<polygon points="100.40,488.05 101.18,490.13 103.40,490.23 101.66,491.61 102.25,493.75 100.40,492.52 98.55,493.75 99.14,491.61 97.40,490.23 99.62,490.13" fill="#111"/>
<polygon points="97.00,495.25 97.78,497.33 100.00,497.43 98.26,498.81 98.85,500.95 97.00,499.72 95.15,500.95 95.74,498.81 94.00,497.43 96.22,497.33" fill="#111"/>
<polygon points="103.80,495.25 104.58,497.33 106.80,497.43 105.06,498.81 105.65,500.95 103.80,499.72 101.95,500.95 102.54,498.81 100.80,497.43 103.02,497.33" fill="#111"/>
<polygon points="120.30,488.05 121.08,490.13 123.30,490.23 121.56,491.61 122.15,493.75 120.30,492.52 118.45,493.75 119.04,491.61 117.30,490.23 119.52,490.13" fill="#111"/>
<polygon points="116.90,495.25 117.68,497.33 119.90,497.43 118.16,498.81 118.75,500.95 116.90,499.72 115.05,500.95 115.64,498.81 113.90,497.43 116.12,497.33" fill="#111"/>
<polygon points="123.70,495.25 124.48,497.33 126.70,497.43 124.96,498.81 125.55,500.95 123.70,499.72 121.85,500.95 122.44,498.81 120.70,497.43 122.92,497.33" fill="#111"/>
<text x="140.8" y="498.2" font-size="14.5" text-anchor="middle" font-weight="normal" font-style="normal" fill="#000" stroke="#000" stroke-width="0.25" >#</text>
<rect x="155.3" y="439.8" width="14.20" height="77.00" fill="#CCCCCC"/>
<rect x="169.5" y="439.8" width="105.80" height="76.00" fill="#fff"/>
<line x1="275.70" y1="439.8" x2="275.70" y2="515.8" stroke="#b8b8b8" stroke-width="1"/>
<line x1="169.5" y1="496.3" x2="275.3" y2="496.3" stroke="#b0b0b0" stroke-width="1.2"/>
<rect x="169.50" y="452.20" width="4.23" height="63.60" fill="url(#g0)"/>
<rect x="173.73" y="446.60" width="4.23" height="69.20" fill="url(#g0)"/>
<path d="M174.23,515.8 V447.10 H177.46" fill="none" stroke="#1b5a78" stroke-width="0.9"/>
<rect x="177.96" y="464.40" width="4.23" height="51.40" fill="url(#g0)"/>
<path d="M178.46,515.8 V464.90 H181.70" fill="none" stroke="#1b5a78" stroke-width="0.9"/>
<rect x="182.20" y="471.00" width="4.23" height="44.80" fill="url(#g0)"/>
<rect x="186.43" y="462.00" width="4.23" height="53.80" fill="url(#g0)"/>
<path d="M186.93,515.8 V462.50 H190.16" fill="none" stroke="#1b5a78" stroke-width="0.9"/>
<rect x="190.66" y="480.30" width="4.23" height="35.50" fill="url(#g1)"/>
<path d="M191.16,515.8 V480.80 H194.39" fill="none" stroke="#114a63" stroke-width="0.9"/>
<rect x="194.89" y="463.20" width="4.23" height="52.60" fill="url(#g1)"/>
<path d="M195.39,515.8 V463.70 H198.62" fill="none" stroke="#114a63" stroke-width="0.9"/>
<rect x="199.12" y="466.00" width="4.23" height="49.80" fill="url(#g1)"/>
<path d="M199.62,515.8 V466.50 H202.86" fill="none" stroke="#114a63" stroke-width="0.9"/>
<path d="M203.86,515.8 V507.00 H207.09 V515.8" fill="#fff" stroke="#114a63" stroke-width="0.9"/>
<rect x="207.59" y="468.20" width="4.23" height="47.60" fill="url(#g1)"/>
<path d="M208.09,515.8 V468.70 H211.32" fill="none" stroke="#114a63" stroke-width="0.9"/>
<rect x="211.82" y="514.50" width="4.23" height="1.30" fill="url(#g2)"/>
<rect x="216.05" y="514.00" width="4.23" height="1.80" fill="url(#g2)"/>
<path d="M216.55,515.8 V514.50 H219.78" fill="none" stroke="#5a3a6a" stroke-width="0.9"/>
<rect x="220.28" y="514.50" width="4.23" height="1.30" fill="url(#g2)"/>
<rect x="224.52" y="514.00" width="4.23" height="1.80" fill="url(#g2)"/>
<path d="M225.02,515.8 V514.50 H228.25" fill="none" stroke="#5a3a6a" stroke-width="0.9"/>
<rect x="228.75" y="514.00" width="4.23" height="1.80" fill="url(#g2)"/>
<rect x="232.98" y="514.00" width="4.23" height="1.80" fill="url(#g3)"/>
<rect x="237.21" y="514.50" width="4.23" height="1.30" fill="url(#g3)"/>
<path d="M237.71,515.8 V515.00 H240.94" fill="none" stroke="#4a2a80" stroke-width="0.9"/>
<rect x="241.44" y="514.00" width="4.23" height="1.80" fill="url(#g3)"/>
<rect x="245.68" y="513.50" width="4.23" height="2.30" fill="url(#g3)"/>
<path d="M246.18,515.8 V514.00 H249.41" fill="none" stroke="#4a2a80" stroke-width="0.9"/>
<rect x="249.91" y="514.00" width="4.23" height="1.80" fill="url(#g3)"/>
<rect x="254.14" y="515.00" width="4.23" height="0.80" fill="url(#g4)"/>
<rect x="258.37" y="515.00" width="4.23" height="0.80" fill="url(#g4)"/>
<path d="M258.87,515.8 V515.50 H262.10" fill="none" stroke="#3b1a78" stroke-width="0.9"/>
<rect x="262.60" y="515.00" width="4.23" height="0.80" fill="url(#g4)"/>
<rect x="266.84" y="515.00" width="4.23" height="0.80" fill="url(#g4)"/>
<path d="M267.34,515.8 V515.50 H270.57" fill="none" stroke="#3b1a78" stroke-width="0.9"/>
<rect x="271.07" y="515.00" width="4.23" height="0.80" fill="url(#g4)"/>
<line x1="169.5" y1="516.40" x2="275.80" y2="516.40" stroke="#7a7a7a" stroke-width="1.3"/>
<text x="168.30" y="444.40" font-size="4.3" text-anchor="end" fill="#555">750</text>
<text x="168.30" y="515.30" font-size="4.3" text-anchor="end" fill="#555">0</text>
<text x="211" y="452.3" font-size="13.9" text-anchor="start" font-weight="bold" font-style="italic" fill="#000" stroke="#000" stroke-width="0.35" >SPIB</text>
<polygon points="198.40,446.85 199.18,448.93 201.40,449.03 199.66,450.41 200.25,452.55 198.40,451.32 196.55,452.55 197.14,450.41 195.40,449.03 197.62,448.93" fill="#111"/>
<polygon points="220.70,492.45 221.48,494.53 223.70,494.63 221.96,496.01 222.55,498.15 220.70,496.92 218.85,498.15 219.44,496.01 217.70,494.63 219.92,494.53" fill="#111"/>
<polygon points="217.30,499.65 218.08,501.73 220.30,501.83 218.56,503.21 219.15,505.35 217.30,504.12 215.45,505.35 216.04,503.21 214.30,501.83 216.52,501.73" fill="#111"/>
<polygon points="224.10,499.65 224.88,501.73 227.10,501.83 225.36,503.21 225.95,505.35 224.10,504.12 222.25,505.35 222.84,503.21 221.10,501.83 223.32,501.73" fill="#111"/>
<polygon points="239.60,492.45 240.38,494.53 242.60,494.63 240.86,496.01 241.45,498.15 239.60,496.92 237.75,498.15 238.34,496.01 236.60,494.63 238.82,494.53" fill="#111"/>
<polygon points="236.20,499.65 236.98,501.73 239.20,501.83 237.46,503.21 238.05,505.35 236.20,504.12 234.35,505.35 234.94,503.21 233.20,501.83 235.42,501.73" fill="#111"/>
<polygon points="243.00,499.65 243.78,501.73 246.00,501.83 244.26,503.21 244.85,505.35 243.00,504.12 241.15,505.35 241.74,503.21 240.00,501.83 242.22,501.73" fill="#111"/>
<rect x="277.8" y="439.8" width="12.70" height="77.00" fill="#CCCCCC"/>
<rect x="290.5" y="439.8" width="105.50" height="76.00" fill="#fff"/>
<line x1="396.40" y1="439.8" x2="396.40" y2="515.8" stroke="#b8b8b8" stroke-width="1"/>
<line x1="290.5" y1="477.3" x2="396.0" y2="477.3" stroke="#b0b0b0" stroke-width="1.2"/>
<rect x="290.50" y="459.80" width="4.22" height="56.00" fill="url(#g0)"/>
<rect x="294.72" y="479.80" width="4.22" height="36.00" fill="url(#g0)"/>
<path d="M295.22,515.8 V480.30 H298.44" fill="none" stroke="#1b5a78" stroke-width="0.9"/>
<rect x="298.94" y="447.00" width="4.22" height="68.80" fill="url(#g0)"/>
<path d="M299.44,515.8 V447.50 H302.66" fill="none" stroke="#1b5a78" stroke-width="0.9"/>
<rect x="303.16" y="486.00" width="4.22" height="29.80" fill="url(#g0)"/>
<rect x="307.38" y="480.00" width="4.22" height="35.80" fill="url(#g0)"/>
<path d="M307.88,515.8 V480.50 H311.10" fill="none" stroke="#1b5a78" stroke-width="0.9"/>
<rect x="311.60" y="507.30" width="4.22" height="8.50" fill="url(#g1)"/>
<path d="M312.10,515.8 V507.80 H315.32" fill="none" stroke="#114a63" stroke-width="0.9"/>
<rect x="315.82" y="509.10" width="4.22" height="6.70" fill="url(#g1)"/>
<path d="M316.32,515.8 V509.60 H319.54" fill="none" stroke="#114a63" stroke-width="0.9"/>
<rect x="320.04" y="504.10" width="4.22" height="11.70" fill="url(#g1)"/>
<path d="M320.54,515.8 V504.60 H323.76" fill="none" stroke="#114a63" stroke-width="0.9"/>
<rect x="324.26" y="510.40" width="4.22" height="5.40" fill="url(#g1)"/>
<path d="M324.76,515.8 V510.90 H327.98" fill="none" stroke="#114a63" stroke-width="0.9"/>
<rect x="328.48" y="504.10" width="4.22" height="11.70" fill="url(#g1)"/>
<path d="M328.98,515.8 V504.60 H332.20" fill="none" stroke="#114a63" stroke-width="0.9"/>
<rect x="332.70" y="512.20" width="4.22" height="3.60" fill="url(#g2)"/>
<rect x="336.92" y="513.50" width="4.22" height="2.30" fill="url(#g2)"/>
<path d="M337.42,515.8 V514.00 H340.64" fill="none" stroke="#5a3a6a" stroke-width="0.9"/>
<rect x="341.14" y="514.00" width="4.22" height="1.80" fill="url(#g2)"/>
<rect x="345.36" y="513.50" width="4.22" height="2.30" fill="url(#g2)"/>
<path d="M345.86,515.8 V514.00 H349.08" fill="none" stroke="#5a3a6a" stroke-width="0.9"/>
<rect x="349.58" y="514.00" width="4.22" height="1.80" fill="url(#g2)"/>
<rect x="353.80" y="513.50" width="4.22" height="2.30" fill="url(#g3)"/>
<rect x="358.02" y="514.00" width="4.22" height="1.80" fill="url(#g3)"/>
<path d="M358.52,515.8 V514.50 H361.74" fill="none" stroke="#4a2a80" stroke-width="0.9"/>
<rect x="362.24" y="514.00" width="4.22" height="1.80" fill="url(#g3)"/>
<rect x="366.46" y="514.50" width="4.22" height="1.30" fill="url(#g3)"/>
<path d="M366.96,515.8 V515.00 H370.18" fill="none" stroke="#4a2a80" stroke-width="0.9"/>
<rect x="370.68" y="514.50" width="4.22" height="1.30" fill="url(#g3)"/>
<rect x="374.90" y="509.40" width="4.22" height="6.40" fill="url(#g4)"/>
<rect x="379.12" y="505.30" width="4.22" height="10.50" fill="url(#g4)"/>
<path d="M379.62,515.8 V505.80 H382.84" fill="none" stroke="#3b1a78" stroke-width="0.9"/>
<path d="M383.84,515.8 V504.40 H387.06 V515.8" fill="#fff" stroke="#3b1a78" stroke-width="0.9"/>
<rect x="387.56" y="505.30" width="4.22" height="10.50" fill="url(#g4)"/>
<path d="M388.06,515.8 V505.80 H391.28" fill="none" stroke="#3b1a78" stroke-width="0.9"/>
<rect x="391.78" y="503.20" width="4.22" height="12.60" fill="url(#g4)"/>
<line x1="290.5" y1="516.40" x2="396.50" y2="516.40" stroke="#7a7a7a" stroke-width="1.3"/>
<text x="289.30" y="444.40" font-size="4.3" text-anchor="end" fill="#555">200</text>
<text x="289.30" y="479.30" font-size="4.3" text-anchor="end" fill="#555">100</text>
<text x="289.30" y="515.30" font-size="4.3" text-anchor="end" fill="#555">0</text>
<text x="317.5" y="453.3" font-size="13.9" text-anchor="start" font-weight="bold" font-style="italic" fill="#000" stroke="#000" stroke-width="0.35" >BACH2</text>
<polygon points="320.60,490.95 321.38,493.03 323.60,493.13 321.86,494.51 322.45,496.65 320.60,495.42 318.75,496.65 319.34,494.51 317.60,493.13 319.82,493.03" fill="#111"/>
<polygon points="341.90,493.85 342.68,495.93 344.90,496.03 343.16,497.41 343.75,499.55 341.90,498.32 340.05,499.55 340.64,497.41 338.90,496.03 341.12,495.93" fill="#111"/>
<polygon points="338.50,501.05 339.28,503.13 341.50,503.23 339.76,504.61 340.35,506.75 338.50,505.52 336.65,506.75 337.24,504.61 335.50,503.23 337.72,503.13" fill="#111"/>
<polygon points="345.30,501.05 346.08,503.13 348.30,503.23 346.56,504.61 347.15,506.75 345.30,505.52 343.45,506.75 344.04,504.61 342.30,503.23 344.52,503.13" fill="#111"/>
<polygon points="360.50,493.85 361.28,495.93 363.50,496.03 361.76,497.41 362.35,499.55 360.50,498.32 358.65,499.55 359.24,497.41 357.50,496.03 359.72,495.93" fill="#111"/>
<polygon points="357.10,501.05 357.88,503.13 360.10,503.23 358.36,504.61 358.95,506.75 357.10,505.52 355.25,506.75 355.84,504.61 354.10,503.23 356.32,503.13" fill="#111"/>
<polygon points="363.90,501.05 364.68,503.13 366.90,503.23 365.16,504.61 365.75,506.75 363.90,505.52 362.05,506.75 362.64,504.61 360.90,503.23 363.12,503.13" fill="#111"/>
<text x="383.4" y="494.3" font-size="14.5" text-anchor="middle" font-weight="normal" font-style="normal" fill="#000" stroke="#000" stroke-width="0.25" >#</text>
<rect x="399.2" y="439.8" width="13.40" height="77.00" fill="#CCCCCC"/>
<rect x="412.6" y="439.8" width="105.80" height="76.00" fill="#fff"/>
<line x1="518.80" y1="439.8" x2="518.80" y2="515.8" stroke="#b8b8b8" stroke-width="1"/>
<line x1="412.6" y1="496.9" x2="518.4" y2="496.9" stroke="#b0b0b0" stroke-width="1.2"/>
<rect x="412.60" y="447.30" width="4.23" height="68.50" fill="url(#g0)"/>
<rect x="416.83" y="487.90" width="4.23" height="27.90" fill="url(#g0)"/>
<path d="M417.33,515.8 V488.40 H420.56" fill="none" stroke="#1b5a78" stroke-width="0.9"/>
<rect x="421.06" y="458.30" width="4.23" height="57.50" fill="url(#g0)"/>
<path d="M421.56,515.8 V458.80 H424.80" fill="none" stroke="#1b5a78" stroke-width="0.9"/>
<rect x="425.30" y="486.00" width="4.23" height="29.80" fill="url(#g0)"/>
<rect x="429.53" y="479.10" width="4.23" height="36.70" fill="url(#g0)"/>
<path d="M430.03,515.8 V479.60 H433.26" fill="none" stroke="#1b5a78" stroke-width="0.9"/>
<rect x="433.76" y="510.60" width="4.23" height="5.20" fill="url(#g1)"/>
<path d="M434.26,515.8 V511.10 H437.49" fill="none" stroke="#114a63" stroke-width="0.9"/>
<rect x="437.99" y="510.60" width="4.23" height="5.20" fill="url(#g1)"/>
<path d="M438.49,515.8 V511.10 H441.72" fill="none" stroke="#114a63" stroke-width="0.9"/>
<rect x="442.22" y="503.50" width="4.23" height="12.30" fill="url(#g1)"/>
<path d="M442.72,515.8 V504.00 H445.96" fill="none" stroke="#114a63" stroke-width="0.9"/>
<rect x="446.46" y="512.90" width="4.23" height="2.90" fill="url(#g1)"/>
<path d="M446.96,515.8 V513.40 H450.19" fill="none" stroke="#114a63" stroke-width="0.9"/>
<rect x="450.69" y="506.60" width="4.23" height="9.20" fill="url(#g1)"/>
<path d="M451.19,515.8 V507.10 H454.42" fill="none" stroke="#114a63" stroke-width="0.9"/>
<rect x="454.92" y="514.00" width="4.23" height="1.80" fill="url(#g2)"/>
<rect x="459.15" y="513.50" width="4.23" height="2.30" fill="url(#g2)"/>
<path d="M459.65,515.8 V514.00 H462.88" fill="none" stroke="#5a3a6a" stroke-width="0.9"/>
<rect x="463.38" y="514.00" width="4.23" height="1.80" fill="url(#g2)"/>
<rect x="467.62" y="514.00" width="4.23" height="1.80" fill="url(#g2)"/>
<path d="M468.12,515.8 V514.50 H471.35" fill="none" stroke="#5a3a6a" stroke-width="0.9"/>
<rect x="471.85" y="514.00" width="4.23" height="1.80" fill="url(#g2)"/>
<rect x="476.08" y="514.00" width="4.23" height="1.80" fill="url(#g3)"/>
<rect x="480.31" y="513.00" width="4.23" height="2.80" fill="url(#g3)"/>
<path d="M480.81,515.8 V513.50 H484.04" fill="none" stroke="#4a2a80" stroke-width="0.9"/>
<rect x="484.54" y="513.50" width="4.23" height="2.30" fill="url(#g3)"/>
<rect x="488.78" y="514.00" width="4.23" height="1.80" fill="url(#g3)"/>
<path d="M489.28,515.8 V514.50 H492.51" fill="none" stroke="#4a2a80" stroke-width="0.9"/>
<rect x="493.01" y="514.00" width="4.23" height="1.80" fill="url(#g3)"/>
<rect x="497.24" y="514.00" width="4.23" height="1.80" fill="url(#g4)"/>
<rect x="501.47" y="514.50" width="4.23" height="1.30" fill="url(#g4)"/>
<path d="M501.97,515.8 V515.00 H505.20" fill="none" stroke="#3b1a78" stroke-width="0.9"/>
<rect x="505.70" y="514.50" width="4.23" height="1.30" fill="url(#g4)"/>
<rect x="509.94" y="514.50" width="4.23" height="1.30" fill="url(#g4)"/>
<path d="M510.44,515.8 V515.00 H513.67" fill="none" stroke="#3b1a78" stroke-width="0.9"/>
<rect x="514.17" y="514.50" width="4.23" height="1.30" fill="url(#g4)"/>
<line x1="412.6" y1="516.40" x2="518.90" y2="516.40" stroke="#7a7a7a" stroke-width="1.3"/>
<text x="411.40" y="444.40" font-size="4.3" text-anchor="end" fill="#555">1500</text>
<text x="411.40" y="479.30" font-size="4.3" text-anchor="end" fill="#555">750</text>
<text x="411.40" y="515.30" font-size="4.3" text-anchor="end" fill="#555">0</text>
<text x="445" y="452.4" font-size="13.9" text-anchor="start" font-weight="bold" font-style="italic" fill="#000" stroke="#000" stroke-width="0.35" >EBF</text>
<polygon points="441.90,490.35 442.68,492.43 444.90,492.53 443.16,493.91 443.75,496.05 441.90,494.82 440.05,496.05 440.64,493.91 438.90,492.53 441.12,492.43" fill="#111"/>
<polygon points="463.50,493.45 464.28,495.53 466.50,495.63 464.76,497.01 465.35,499.15 463.50,497.92 461.65,499.15 462.24,497.01 460.50,495.63 462.72,495.53" fill="#111"/>
<polygon points="460.10,500.65 460.88,502.73 463.10,502.83 461.36,504.21 461.95,506.35 460.10,505.12 458.25,506.35 458.84,504.21 457.10,502.83 459.32,502.73" fill="#111"/>
<polygon points="466.90,500.65 467.68,502.73 469.90,502.83 468.16,504.21 468.75,506.35 466.90,505.12 465.05,506.35 465.64,504.21 463.90,502.83 466.12,502.73" fill="#111"/>
<polygon points="482.30,493.45 483.08,495.53 485.30,495.63 483.56,497.01 484.15,499.15 482.30,497.92 480.45,499.15 481.04,497.01 479.30,495.63 481.52,495.53" fill="#111"/>
<polygon points="478.90,500.65 479.68,502.73 481.90,502.83 480.16,504.21 480.75,506.35 478.90,505.12 477.05,506.35 477.64,504.21 475.90,502.83 478.12,502.73" fill="#111"/>
<polygon points="485.70,500.65 486.48,502.73 488.70,502.83 486.96,504.21 487.55,506.35 485.70,505.12 483.85,506.35 484.44,504.21 482.70,502.83 484.92,502.73" fill="#111"/>
<rect x="35.2" y="518.8" width="13.20" height="77.00" fill="#CCCCCC"/>
<rect x="48.4" y="518.8" width="106.20" height="76.00" fill="#fff"/>
<line x1="155.00" y1="518.8" x2="155.00" y2="594.8" stroke="#b8b8b8" stroke-width="1"/>
<line x1="48.4" y1="556.2" x2="154.6" y2="556.2" stroke="#b0b0b0" stroke-width="1.2"/>
<rect x="48.40" y="565.30" width="4.25" height="29.50" fill="url(#g0)"/>
<rect x="52.65" y="539.80" width="4.25" height="55.00" fill="url(#g0)"/>
<path d="M53.15,594.8 V540.30 H56.40" fill="none" stroke="#1b5a78" stroke-width="0.9"/>
<rect x="56.90" y="570.00" width="4.25" height="24.80" fill="url(#g0)"/>
<path d="M57.40,594.8 V570.50 H60.64" fill="none" stroke="#1b5a78" stroke-width="0.9"/>
<rect x="61.14" y="525.60" width="4.25" height="69.20" fill="url(#g0)"/>
<rect x="65.39" y="562.30" width="4.25" height="32.50" fill="url(#g0)"/>
<path d="M65.89,594.8 V562.80 H69.14" fill="none" stroke="#1b5a78" stroke-width="0.9"/>
<rect x="69.64" y="584.60" width="4.25" height="10.20" fill="url(#g1)"/>
<path d="M70.14,594.8 V585.10 H73.39" fill="none" stroke="#114a63" stroke-width="0.9"/>
<rect x="73.89" y="586.20" width="4.25" height="8.60" fill="url(#g1)"/>
<path d="M74.39,594.8 V586.70 H77.64" fill="none" stroke="#114a63" stroke-width="0.9"/>
<rect x="78.14" y="583.30" width="4.25" height="11.50" fill="url(#g1)"/>
<path d="M78.64,594.8 V583.80 H81.88" fill="none" stroke="#114a63" stroke-width="0.9"/>
<rect x="82.38" y="589.00" width="4.25" height="5.80" fill="url(#g1)"/>
<path d="M82.88,594.8 V589.50 H86.13" fill="none" stroke="#114a63" stroke-width="0.9"/>
<rect x="86.63" y="588.10" width="4.25" height="6.70" fill="url(#g1)"/>
<path d="M87.13,594.8 V588.60 H90.38" fill="none" stroke="#114a63" stroke-width="0.9"/>
<rect x="90.88" y="582.00" width="4.25" height="12.80" fill="url(#g2)"/>
<rect x="95.13" y="577.30" width="4.25" height="17.50" fill="url(#g2)"/>
<path d="M95.63,594.8 V577.80 H98.88" fill="none" stroke="#5a3a6a" stroke-width="0.9"/>
<path d="M99.88,594.8 V585.50 H103.12 V594.8" fill="#fff" stroke="#5a3a6a" stroke-width="0.9"/>
<rect x="103.62" y="587.40" width="4.25" height="7.40" fill="url(#g2)"/>
<path d="M104.12,594.8 V587.90 H107.37" fill="none" stroke="#5a3a6a" stroke-width="0.9"/>
<rect x="107.87" y="588.00" width="4.25" height="6.80" fill="url(#g2)"/>
<rect x="112.12" y="586.70" width="4.25" height="8.10" fill="url(#g3)"/>
<rect x="116.37" y="581.30" width="4.25" height="13.50" fill="url(#g3)"/>
<path d="M116.87,594.8 V581.80 H120.12" fill="none" stroke="#4a2a80" stroke-width="0.9"/>
<rect x="120.62" y="582.60" width="4.25" height="12.20" fill="url(#g3)"/>
<rect x="124.86" y="586.70" width="4.25" height="8.10" fill="url(#g3)"/>
<path d="M125.36,594.8 V587.20 H128.61" fill="none" stroke="#4a2a80" stroke-width="0.9"/>
<rect x="129.11" y="587.40" width="4.25" height="7.40" fill="url(#g3)"/>
<rect x="133.36" y="592.00" width="4.25" height="2.80" fill="url(#g4)"/>
<rect x="137.61" y="592.50" width="4.25" height="2.30" fill="url(#g4)"/>
<path d="M138.11,594.8 V593.00 H141.36" fill="none" stroke="#3b1a78" stroke-width="0.9"/>
<rect x="141.86" y="592.50" width="4.25" height="2.30" fill="url(#g4)"/>
<rect x="146.10" y="592.00" width="4.25" height="2.80" fill="url(#g4)"/>
<path d="M146.60,594.8 V592.50 H149.85" fill="none" stroke="#3b1a78" stroke-width="0.9"/>
<rect x="150.35" y="592.00" width="4.25" height="2.80" fill="url(#g4)"/>
<line x1="48.4" y1="595.40" x2="155.10" y2="595.40" stroke="#7a7a7a" stroke-width="1.3"/>
<text x="47.20" y="523.40" font-size="4.3" text-anchor="end" fill="#555">750</text>
<text x="47.20" y="558.30" font-size="4.3" text-anchor="end" fill="#555">375</text>
<text x="47.20" y="594.30" font-size="4.3" text-anchor="end" fill="#555">0</text>
<text x="80" y="535.5" font-size="13.9" text-anchor="start" font-weight="bold" font-style="italic" fill="#000" stroke="#000" stroke-width="0.35" >ID3</text>
<polygon points="78.10,571.45 78.88,573.53 81.10,573.63 79.36,575.01 79.95,577.15 78.10,575.92 76.25,577.15 76.84,575.01 75.10,573.63 77.32,573.53" fill="#111"/>
<polygon points="98.10,564.45 98.88,566.53 101.10,566.63 99.36,568.01 99.95,570.15 98.10,568.92 96.25,570.15 96.84,568.01 95.10,566.63 97.32,566.53" fill="#111"/>
<polygon points="119.20,564.45 119.98,566.53 122.20,566.63 120.46,568.01 121.05,570.15 119.20,568.92 117.35,570.15 117.94,568.01 116.20,566.63 118.42,566.53" fill="#111"/>
<text x="141.8" y="582.3" font-size="14.5" text-anchor="middle" font-weight="normal" font-style="normal" fill="#000" stroke="#000" stroke-width="0.25" >#</text>
<rect x="155.3" y="518.8" width="14.20" height="77.00" fill="#CCCCCC"/>
<rect x="169.5" y="518.8" width="105.80" height="76.00" fill="#fff"/>
<line x1="275.70" y1="518.8" x2="275.70" y2="594.8" stroke="#b8b8b8" stroke-width="1"/>
<line x1="169.5" y1="575.7" x2="275.3" y2="575.7" stroke="#b0b0b0" stroke-width="1.2"/>
<rect x="169.50" y="529.50" width="4.23" height="65.30" fill="url(#g0)"/>
<rect x="173.73" y="536.90" width="4.23" height="57.90" fill="url(#g0)"/>
<path d="M174.23,594.8 V537.40 H177.46" fill="none" stroke="#1b5a78" stroke-width="0.9"/>
<rect x="177.96" y="552.40" width="4.23" height="42.40" fill="url(#g0)"/>
<path d="M178.46,594.8 V552.90 H181.70" fill="none" stroke="#1b5a78" stroke-width="0.9"/>
<rect x="182.20" y="526.10" width="4.23" height="68.70" fill="url(#g0)"/>
<rect x="186.43" y="545.20" width="4.23" height="49.60" fill="url(#g0)"/>
<path d="M186.93,594.8 V545.70 H190.16" fill="none" stroke="#1b5a78" stroke-width="0.9"/>
<rect x="190.66" y="590.00" width="4.23" height="4.80" fill="url(#g1)"/>
<path d="M191.16,594.8 V590.50 H194.39" fill="none" stroke="#114a63" stroke-width="0.9"/>
<rect x="194.89" y="591.00" width="4.23" height="3.80" fill="url(#g1)"/>
<path d="M195.39,594.8 V591.50 H198.62" fill="none" stroke="#114a63" stroke-width="0.9"/>
<rect x="199.12" y="590.00" width="4.23" height="4.80" fill="url(#g1)"/>
<path d="M199.62,594.8 V590.50 H202.86" fill="none" stroke="#114a63" stroke-width="0.9"/>
<rect x="203.36" y="590.70" width="4.23" height="4.10" fill="url(#g1)"/>
<path d="M203.86,594.8 V591.20 H207.09" fill="none" stroke="#114a63" stroke-width="0.9"/>
<rect x="207.59" y="590.00" width="4.23" height="4.80" fill="url(#g1)"/>
<path d="M208.09,594.8 V590.50 H211.32" fill="none" stroke="#114a63" stroke-width="0.9"/>
<rect x="211.82" y="590.90" width="4.23" height="3.90" fill="url(#g2)"/>
<rect x="216.05" y="591.00" width="4.23" height="3.80" fill="url(#g2)"/>
<path d="M216.55,594.8 V591.50 H219.78" fill="none" stroke="#5a3a6a" stroke-width="0.9"/>
<rect x="220.28" y="590.90" width="4.23" height="3.90" fill="url(#g2)"/>
<rect x="224.52" y="591.00" width="4.23" height="3.80" fill="url(#g2)"/>
<path d="M225.02,594.8 V591.50 H228.25" fill="none" stroke="#5a3a6a" stroke-width="0.9"/>
<rect x="228.75" y="590.90" width="4.23" height="3.90" fill="url(#g2)"/>
<rect x="232.98" y="590.50" width="4.23" height="4.30" fill="url(#g3)"/>
<rect x="237.21" y="590.50" width="4.23" height="4.30" fill="url(#g3)"/>
<path d="M237.71,594.8 V591.00 H240.94" fill="none" stroke="#4a2a80" stroke-width="0.9"/>
<rect x="241.44" y="590.50" width="4.23" height="4.30" fill="url(#g3)"/>
<rect x="245.68" y="590.50" width="4.23" height="4.30" fill="url(#g3)"/>
<path d="M246.18,594.8 V591.00 H249.41" fill="none" stroke="#4a2a80" stroke-width="0.9"/>
<rect x="249.91" y="590.50" width="4.23" height="4.30" fill="url(#g3)"/>
<rect x="254.14" y="589.50" width="4.23" height="5.30" fill="url(#g4)"/>
<rect x="258.37" y="589.50" width="4.23" height="5.30" fill="url(#g4)"/>
<path d="M258.87,594.8 V590.00 H262.10" fill="none" stroke="#3b1a78" stroke-width="0.9"/>
<rect x="262.60" y="589.50" width="4.23" height="5.30" fill="url(#g4)"/>
<rect x="266.84" y="589.50" width="4.23" height="5.30" fill="url(#g4)"/>
<path d="M267.34,594.8 V590.00 H270.57" fill="none" stroke="#3b1a78" stroke-width="0.9"/>
<rect x="271.07" y="589.50" width="4.23" height="5.30" fill="url(#g4)"/>
<line x1="169.5" y1="595.40" x2="275.80" y2="595.40" stroke="#7a7a7a" stroke-width="1.3"/>
<text x="168.30" y="523.40" font-size="4.3" text-anchor="end" fill="#555">2000</text>
<text x="168.30" y="558.30" font-size="4.3" text-anchor="end" fill="#555">1000</text>
<text x="168.30" y="594.30" font-size="4.3" text-anchor="end" fill="#555">0</text>
<text x="199.1" y="531.7" font-size="13.9" text-anchor="start" font-weight="bold" font-style="italic" fill="#000" stroke="#000" stroke-width="0.35" >PRDM4</text>
<polygon points="199.80,576.85 200.58,578.93 202.80,579.03 201.06,580.41 201.65,582.55 199.80,581.32 197.95,582.55 198.54,580.41 196.80,579.03 199.02,578.93" fill="#111"/>
<polygon points="220.50,577.05 221.28,579.13 223.50,579.23 221.76,580.61 222.35,582.75 220.50,581.52 218.65,582.75 219.24,580.61 217.50,579.23 219.72,579.13" fill="#111"/>
<polygon points="241.00,576.85 241.78,578.93 244.00,579.03 242.26,580.41 242.85,582.55 241.00,581.32 239.15,582.55 239.74,580.41 238.00,579.03 240.22,578.93" fill="#111"/>
<rect x="277.8" y="518.8" width="12.70" height="77.00" fill="#CCCCCC"/>
<rect x="290.5" y="518.8" width="105.50" height="76.00" fill="#fff"/>
<line x1="396.40" y1="518.8" x2="396.40" y2="594.8" stroke="#b8b8b8" stroke-width="1"/>
<line x1="290.5" y1="557.2" x2="396.0" y2="557.2" stroke="#b0b0b0" stroke-width="1.2"/>
<rect x="290.50" y="556.50" width="4.22" height="38.30" fill="url(#g0)"/>
<rect x="294.72" y="545.90" width="4.22" height="48.90" fill="url(#g0)"/>
<path d="M295.22,594.8 V546.40 H298.44" fill="none" stroke="#1b5a78" stroke-width="0.9"/>
<rect x="298.94" y="546.50" width="4.22" height="48.30" fill="url(#g0)"/>
<path d="M299.44,594.8 V547.00 H302.66" fill="none" stroke="#1b5a78" stroke-width="0.9"/>
<rect x="303.16" y="544.60" width="4.22" height="50.20" fill="url(#g0)"/>
<rect x="307.38" y="550.30" width="4.22" height="44.50" fill="url(#g0)"/>
<path d="M307.88,594.8 V550.80 H311.10" fill="none" stroke="#1b5a78" stroke-width="0.9"/>
<rect x="311.60" y="530.90" width="4.22" height="63.90" fill="url(#g1)"/>
<path d="M312.10,594.8 V531.40 H315.32" fill="none" stroke="#114a63" stroke-width="0.9"/>
<rect x="315.82" y="528.40" width="4.22" height="66.40" fill="url(#g1)"/>
<path d="M316.32,594.8 V528.90 H319.54" fill="none" stroke="#114a63" stroke-width="0.9"/>
<rect x="320.04" y="526.50" width="4.22" height="68.30" fill="url(#g1)"/>
<path d="M320.54,594.8 V527.00 H323.76" fill="none" stroke="#114a63" stroke-width="0.9"/>
<rect x="324.26" y="545.90" width="4.22" height="48.90" fill="url(#g1)"/>
<path d="M324.76,594.8 V546.40 H327.98" fill="none" stroke="#114a63" stroke-width="0.9"/>
<rect x="328.48" y="533.40" width="4.22" height="61.40" fill="url(#g1)"/>
<path d="M328.98,594.8 V533.90 H332.20" fill="none" stroke="#114a63" stroke-width="0.9"/>
<rect x="332.70" y="574.20" width="4.22" height="20.60" fill="url(#g2)"/>
<rect x="336.92" y="570.80" width="4.22" height="24.00" fill="url(#g2)"/>
<path d="M337.42,594.8 V571.30 H340.64" fill="none" stroke="#5a3a6a" stroke-width="0.9"/>
<rect x="341.14" y="576.30" width="4.22" height="18.50" fill="url(#g2)"/>
<rect x="345.36" y="580.50" width="4.22" height="14.30" fill="url(#g2)"/>
<path d="M345.86,594.8 V581.00 H349.08" fill="none" stroke="#5a3a6a" stroke-width="0.9"/>
<rect x="349.58" y="573.30" width="4.22" height="21.50" fill="url(#g2)"/>
<rect x="353.80" y="581.90" width="4.22" height="12.90" fill="url(#g3)"/>
<rect x="358.02" y="584.40" width="4.22" height="10.40" fill="url(#g3)"/>
<path d="M358.52,594.8 V584.90 H361.74" fill="none" stroke="#4a2a80" stroke-width="0.9"/>
<rect x="362.24" y="575.00" width="4.22" height="19.80" fill="url(#g3)"/>
<rect x="366.46" y="583.00" width="4.22" height="11.80" fill="url(#g3)"/>
<path d="M366.96,594.8 V583.50 H370.18" fill="none" stroke="#4a2a80" stroke-width="0.9"/>
<rect x="370.68" y="580.90" width="4.22" height="13.90" fill="url(#g3)"/>
<rect x="374.90" y="585.30" width="4.22" height="9.50" fill="url(#g4)"/>
<rect x="379.12" y="590.90" width="4.22" height="3.90" fill="url(#g4)"/>
<path d="M379.62,594.8 V591.40 H382.84" fill="none" stroke="#3b1a78" stroke-width="0.9"/>
<rect x="383.34" y="588.80" width="4.22" height="6.00" fill="url(#g4)"/>
<rect x="387.56" y="583.30" width="4.22" height="11.50" fill="url(#g4)"/>
<path d="M388.06,594.8 V583.80 H391.28" fill="none" stroke="#3b1a78" stroke-width="0.9"/>
<rect x="391.78" y="569.80" width="4.22" height="25.00" fill="url(#g4)"/>
<line x1="290.5" y1="595.40" x2="396.50" y2="595.40" stroke="#7a7a7a" stroke-width="1.3"/>
<text x="289.30" y="523.40" font-size="4.3" text-anchor="end" fill="#555">1000</text>
<text x="289.30" y="558.30" font-size="4.3" text-anchor="end" fill="#555">500</text>
<text x="289.30" y="594.30" font-size="4.3" text-anchor="end" fill="#555">0</text>
<text x="343" y="531.7" font-size="13.9" text-anchor="start" font-weight="bold" font-style="italic" fill="#000" stroke="#000" stroke-width="0.35" >ETS1</text>
<polygon points="343.20,550.35 343.98,552.43 346.20,552.53 344.46,553.91 345.05,556.05 343.20,554.82 341.35,556.05 341.94,553.91 340.20,552.53 342.42,552.43" fill="#111"/>
<polygon points="339.80,557.55 340.58,559.63 342.80,559.73 341.06,561.11 341.65,563.25 339.80,562.02 337.95,563.25 338.54,561.11 336.80,559.73 339.02,559.63" fill="#111"/>
<polygon points="346.60,557.55 347.38,559.63 349.60,559.73 347.86,561.11 348.45,563.25 346.60,562.02 344.75,563.25 345.34,561.11 343.60,559.73 345.82,559.63" fill="#111"/>
<polygon points="362.60,556.25 363.38,558.33 365.60,558.43 363.86,559.81 364.45,561.95 362.60,560.72 360.75,561.95 361.34,559.81 359.60,558.43 361.82,558.33" fill="#111"/>
<polygon points="359.20,563.45 359.98,565.53 362.20,565.63 360.46,567.01 361.05,569.15 359.20,567.92 357.35,569.15 357.94,567.01 356.20,565.63 358.42,565.53" fill="#111"/>
<polygon points="366.00,563.45 366.78,565.53 369.00,565.63 367.26,567.01 367.85,569.15 366.00,567.92 364.15,569.15 364.74,567.01 363.00,565.63 365.22,565.53" fill="#111"/>
<rect x="399.2" y="518.8" width="13.40" height="77.00" fill="#CCCCCC"/>
<rect x="412.6" y="518.8" width="105.80" height="76.00" fill="#fff"/>
<line x1="518.80" y1="518.8" x2="518.80" y2="594.8" stroke="#b8b8b8" stroke-width="1"/>
<rect x="412.60" y="525.90" width="4.23" height="68.90" fill="url(#g0)"/>
<rect x="416.83" y="540.90" width="4.23" height="53.90" fill="url(#g0)"/>
<path d="M417.33,594.8 V541.40 H420.56" fill="none" stroke="#1b5a78" stroke-width="0.9"/>
<rect x="421.06" y="539.00" width="4.23" height="55.80" fill="url(#g0)"/>
<path d="M421.56,594.8 V539.50 H424.80" fill="none" stroke="#1b5a78" stroke-width="0.9"/>
<rect x="425.30" y="564.60" width="4.23" height="30.20" fill="url(#g0)"/>
<rect x="429.53" y="556.30" width="4.23" height="38.50" fill="url(#g0)"/>
<path d="M430.03,594.8 V556.80 H433.26" fill="none" stroke="#1b5a78" stroke-width="0.9"/>
<rect x="433.76" y="565.00" width="4.23" height="29.80" fill="url(#g1)"/>
<path d="M434.26,594.8 V565.50 H437.49" fill="none" stroke="#114a63" stroke-width="0.9"/>
<rect x="437.99" y="558.00" width="4.23" height="36.80" fill="url(#g1)"/>
<path d="M438.49,594.8 V558.50 H441.72" fill="none" stroke="#114a63" stroke-width="0.9"/>
<rect x="442.22" y="551.30" width="4.23" height="43.50" fill="url(#g1)"/>
<path d="M442.72,594.8 V551.80 H445.96" fill="none" stroke="#114a63" stroke-width="0.9"/>
<rect x="446.46" y="558.00" width="4.23" height="36.80" fill="url(#g1)"/>
<path d="M446.96,594.8 V558.50 H450.19" fill="none" stroke="#114a63" stroke-width="0.9"/>
<rect x="450.69" y="555.00" width="4.23" height="39.80" fill="url(#g1)"/>
<path d="M451.19,594.8 V555.50 H454.42" fill="none" stroke="#114a63" stroke-width="0.9"/>
<path d="M455.42,594.8 V555.50 H458.65 V594.8" fill="#fff" stroke="#5a3a6a" stroke-width="0.9"/>
<rect x="459.15" y="557.70" width="4.23" height="37.10" fill="url(#g2)"/>
<path d="M459.65,594.8 V558.20 H462.88" fill="none" stroke="#5a3a6a" stroke-width="0.9"/>
<rect x="463.38" y="570.50" width="4.23" height="24.30" fill="url(#g2)"/>
<rect x="467.62" y="563.10" width="4.23" height="31.70" fill="url(#g2)"/>
<path d="M468.12,594.8 V563.60 H471.35" fill="none" stroke="#5a3a6a" stroke-width="0.9"/>
<rect x="471.85" y="562.20" width="4.23" height="32.60" fill="url(#g2)"/>
<rect x="476.08" y="554.10" width="4.23" height="40.70" fill="url(#g3)"/>
<rect x="480.31" y="568.90" width="4.23" height="25.90" fill="url(#g3)"/>
<path d="M480.81,594.8 V569.40 H484.04" fill="none" stroke="#4a2a80" stroke-width="0.9"/>
<rect x="484.54" y="567.20" width="4.23" height="27.60" fill="url(#g3)"/>
<rect x="488.78" y="569.20" width="4.23" height="25.60" fill="url(#g3)"/>
<path d="M489.28,594.8 V569.70 H492.51" fill="none" stroke="#4a2a80" stroke-width="0.9"/>
<rect x="493.01" y="569.50" width="4.23" height="25.30" fill="url(#g3)"/>
<rect x="497.24" y="575.90" width="4.23" height="18.90" fill="url(#g4)"/>
<rect x="501.47" y="567.20" width="4.23" height="27.60" fill="url(#g4)"/>
<path d="M501.97,594.8 V567.70 H505.20" fill="none" stroke="#3b1a78" stroke-width="0.9"/>
<rect x="505.70" y="576.20" width="4.23" height="18.60" fill="url(#g4)"/>
<rect x="509.94" y="576.60" width="4.23" height="18.20" fill="url(#g4)"/>
<path d="M510.44,594.8 V577.10 H513.67" fill="none" stroke="#3b1a78" stroke-width="0.9"/>
<rect x="514.17" y="586.40" width="4.23" height="8.40" fill="url(#g4)"/>
<line x1="412.6" y1="595.40" x2="518.90" y2="595.40" stroke="#7a7a7a" stroke-width="1.3"/>
<text x="411.40" y="523.40" font-size="4.3" text-anchor="end" fill="#555">500</text>
<text x="411.40" y="558.30" font-size="4.3" text-anchor="end" fill="#555">250</text>
<text x="411.40" y="594.30" font-size="4.3" text-anchor="end" fill="#555">0</text>
<text x="439.4" y="531.5" font-size="13.9" text-anchor="start" font-weight="bold" font-style="italic" fill="#000" stroke="#000" stroke-width="0.35" >MAFK</text>
<polygon points="484.30,543.85 485.08,545.93 487.30,546.03 485.56,547.41 486.15,549.55 484.30,548.32 482.45,549.55 483.04,547.41 481.30,546.03 483.52,545.93" fill="#111"/>
<text x="506.3" y="560" font-size="14.5" text-anchor="middle" font-weight="normal" font-style="normal" fill="#000" stroke="#000" stroke-width="0.25" >#</text>
<rect x="399.2" y="596.3" width="13.40" height="78.30" fill="#CCCCCC"/>
<rect x="412.6" y="596.3" width="105.80" height="77.30" fill="#fff"/>
<line x1="518.80" y1="596.3" x2="518.80" y2="673.6" stroke="#b8b8b8" stroke-width="1"/>
<line x1="412.6" y1="616.3" x2="518.4" y2="616.3" stroke="#b0b0b0" stroke-width="1.2"/>
<line x1="412.6" y1="635.6" x2="518.4" y2="635.6" stroke="#b0b0b0" stroke-width="1.2"/>
<line x1="412.6" y1="655" x2="518.4" y2="655" stroke="#b0b0b0" stroke-width="1.2"/>
<rect x="412.60" y="671.90" width="4.23" height="1.70" fill="url(#g0)"/>
<rect x="416.83" y="671.50" width="4.23" height="2.10" fill="url(#g0)"/>
<path d="M417.33,673.6 V672.00 H420.56" fill="none" stroke="#1b5a78" stroke-width="0.9"/>
<rect x="421.06" y="671.90" width="4.23" height="1.70" fill="url(#g0)"/>
<path d="M421.56,673.6 V672.40 H424.80" fill="none" stroke="#1b5a78" stroke-width="0.9"/>
<rect x="425.30" y="671.50" width="4.23" height="2.10" fill="url(#g0)"/>
<rect x="429.53" y="671.90" width="4.23" height="1.70" fill="url(#g0)"/>
<path d="M430.03,673.6 V672.40 H433.26" fill="none" stroke="#1b5a78" stroke-width="0.9"/>
<rect x="433.76" y="654.40" width="4.23" height="19.20" fill="url(#g1)"/>
<path d="M434.26,673.6 V654.90 H437.49" fill="none" stroke="#114a63" stroke-width="0.9"/>
<rect x="437.99" y="650.00" width="4.23" height="23.60" fill="url(#g1)"/>
<path d="M438.49,673.6 V650.50 H441.72" fill="none" stroke="#114a63" stroke-width="0.9"/>
<rect x="442.22" y="654.40" width="4.23" height="19.20" fill="url(#g1)"/>
<path d="M442.72,673.6 V654.90 H445.96" fill="none" stroke="#114a63" stroke-width="0.9"/>
<rect x="446.46" y="656.90" width="4.23" height="16.70" fill="url(#g1)"/>
<path d="M446.96,673.6 V657.40 H450.19" fill="none" stroke="#114a63" stroke-width="0.9"/>
<rect x="450.69" y="660.60" width="4.23" height="13.00" fill="url(#g1)"/>
<path d="M451.19,673.6 V661.10 H454.42" fill="none" stroke="#114a63" stroke-width="0.9"/>
<rect x="454.92" y="635.80" width="4.23" height="37.80" fill="url(#g2)"/>
<path d="M459.65,673.6 V627.90 H462.88 V673.6" fill="#fff" stroke="#5a3a6a" stroke-width="0.9"/>
<rect x="463.38" y="618.90" width="4.23" height="54.70" fill="url(#g2)"/>
<rect x="467.62" y="619.30" width="4.23" height="54.30" fill="url(#g2)"/>
<path d="M468.12,673.6 V619.80 H471.35" fill="none" stroke="#5a3a6a" stroke-width="0.9"/>
<path d="M472.35,673.6 V620.80 H475.58 V673.6" fill="#fff" stroke="#5a3a6a" stroke-width="0.9"/>
<rect x="476.08" y="649.20" width="4.23" height="24.40" fill="url(#g3)"/>
<rect x="480.31" y="604.10" width="4.23" height="69.50" fill="url(#g3)"/>
<path d="M480.81,673.6 V604.60 H484.04" fill="none" stroke="#4a2a80" stroke-width="0.9"/>
<rect x="484.54" y="626.30" width="4.23" height="47.30" fill="url(#g3)"/>
<rect x="488.78" y="630.10" width="4.23" height="43.50" fill="url(#g3)"/>
<path d="M489.28,673.6 V630.60 H492.51" fill="none" stroke="#4a2a80" stroke-width="0.9"/>
<rect x="493.01" y="638.70" width="4.23" height="34.90" fill="url(#g3)"/>
<rect x="497.24" y="640.50" width="4.23" height="33.10" fill="url(#g4)"/>
<rect x="501.47" y="653.90" width="4.23" height="19.70" fill="url(#g4)"/>
<path d="M501.97,673.6 V654.40 H505.20" fill="none" stroke="#3b1a78" stroke-width="0.9"/>
<rect x="505.70" y="653.00" width="4.23" height="20.60" fill="url(#g4)"/>
<rect x="509.94" y="651.60" width="4.23" height="22.00" fill="url(#g4)"/>
<path d="M510.44,673.6 V652.10 H513.67" fill="none" stroke="#3b1a78" stroke-width="0.9"/>
<rect x="514.17" y="641.40" width="4.23" height="32.20" fill="url(#g4)"/>
<line x1="412.6" y1="674.20" x2="518.90" y2="674.20" stroke="#7a7a7a" stroke-width="1.3"/>
<text x="411.40" y="600.90" font-size="4.3" text-anchor="end" fill="#555">2000</text>
<text x="411.40" y="636.45" font-size="4.3" text-anchor="end" fill="#555">1000</text>
<text x="411.40" y="673.10" font-size="4.3" text-anchor="end" fill="#555">0</text>
<text x="415" y="607.6" font-size="13.9" text-anchor="start" font-weight="bold" font-style="italic" fill="#000" stroke="#000" stroke-width="0.35" >BHLHB3</text>
<polygon points="443.80,638.15 444.58,640.23 446.80,640.33 445.06,641.71 445.65,643.85 443.80,642.62 441.95,643.85 442.54,641.71 440.80,640.33 443.02,640.23" fill="#111"/>
<polygon points="464.50,610.45 465.28,612.53 467.50,612.63 465.76,614.01 466.35,616.15 464.50,614.92 462.65,616.15 463.24,614.01 461.50,612.63 463.72,612.53" fill="#111"/>
<polygon points="461.10,617.65 461.88,619.73 464.10,619.83 462.36,621.21 462.95,623.35 461.10,622.12 459.25,623.35 459.84,621.21 458.10,619.83 460.32,619.73" fill="#111"/>
<polygon points="467.90,617.65 468.68,619.73 470.90,619.83 469.16,621.21 469.75,623.35 467.90,622.12 466.05,623.35 466.64,621.21 464.90,619.83 467.12,619.73" fill="#111"/>
<polygon points="488.40,602.75 489.18,604.83 491.40,604.93 489.66,606.31 490.25,608.45 488.40,607.22 486.55,608.45 487.14,606.31 485.40,604.93 487.62,604.83" fill="#111"/>
<polygon points="485.00,609.95 485.78,612.03 488.00,612.13 486.26,613.51 486.85,615.65 485.00,614.42 483.15,615.65 483.74,613.51 482.00,612.13 484.22,612.03" fill="#111"/>
<polygon points="491.80,609.95 492.58,612.03 494.80,612.13 493.06,613.51 493.65,615.65 491.80,614.42 489.95,615.65 490.54,613.51 488.80,612.13 491.02,612.03" fill="#111"/>
<text x="507.9" y="643.5" font-size="14.5" text-anchor="middle" font-weight="normal" font-style="normal" fill="#000" stroke="#000" stroke-width="0.25" >#</text>
<rect x="275.5" y="360" width="2.3" height="235" fill="#e2e2e2"/>
<path d="M254.6,515.6 V513.2 Q254.8,512.2 256.4,512.2 Q258.2,512.2 258.4,513.2 V515.6" fill="#fff" stroke="#3b2a55" stroke-width="0.9"/>
<line x1="263.4" y1="507.6" x2="266.6" y2="507.6" stroke="#777" stroke-width="0.9"/>
<line x1="266.7" y1="491.4" x2="266.7" y2="507.6" stroke="#999" stroke-width="0.9"/>
<line x1="266.7" y1="507.6" x2="266.7" y2="515.6" stroke="#222" stroke-width="1"/>
<line x1="270.9" y1="491.4" x2="270.9" y2="496.3" stroke="#999" stroke-width="0.9"/>
<line x1="270.9" y1="496.3" x2="270.9" y2="515.6" stroke="#222" stroke-width="1"/>
<line x1="270.9" y1="496.3" x2="274.6" y2="496.3" stroke="#333" stroke-width="0.9"/>
<line x1="396.8" y1="360" x2="396.8" y2="595" stroke="#c8c8c8" stroke-width="0.8"/>
<rect x="82.20" y="611.3" width="55.30" height="10.4" fill="#62ECF6"/>
<rect x="137.50" y="611.3" width="55.70" height="10.4" fill="#3C94C0"/>
<rect x="193.20" y="611.3" width="54.90" height="10.4" fill="#FCD8F8"/>
<rect x="248.10" y="611.3" width="54.80" height="10.4" fill="#CAA4F2"/>
<rect x="302.90" y="611.3" width="55.60" height="10.4" fill="#9538F0"/>
<line x1="137.5" y1="611.3" x2="137.5" y2="621.7" stroke="#1a1a2a" stroke-width="1.5"/>
<line x1="193.2" y1="611.3" x2="193.2" y2="621.7" stroke="#1a1a2a" stroke-width="1.5"/>
<line x1="248.1" y1="611.3" x2="248.1" y2="621.7" stroke="#1a1a2a" stroke-width="1.5"/>
<line x1="302.9" y1="611.3" x2="302.9" y2="621.7" stroke="#1a1a2a" stroke-width="1.5"/>
<rect x="82.2" y="611.3" width="276.30" height="10.4" fill="none" stroke="#1a1a2a" stroke-width="1.6"/>
<text x="119.85" y="628.60" font-size="13.8" font-weight="bold" text-anchor="end" stroke="#000" stroke-width="0.3" transform="rotate(-40 119.85 628.60)">D0 MBCs</text>
<text x="179.25" y="627.20" font-size="13.8" font-weight="bold" text-anchor="end" stroke="#000" stroke-width="0.3" transform="rotate(-40 179.25 627.20)">D4 actBCs</text>
<text x="227.20" y="625.30" font-size="13.8" font-weight="bold" text-anchor="end" stroke="#000" stroke-width="0.3" transform="rotate(-40 227.20 625.30)">D7 PBs</text>
<text x="286.10" y="625.30" font-size="13.8" font-weight="bold" text-anchor="end" stroke="#000" stroke-width="0.3" transform="rotate(-40 286.10 625.30)">D10 PCs</text>
<text x="336.20" y="628.80" font-size="13.8" font-weight="bold" text-anchor="end" stroke="#000" stroke-width="0.3" transform="rotate(-40 336.20 628.80)">BMPCs</text>
</svg>
</body></html>
